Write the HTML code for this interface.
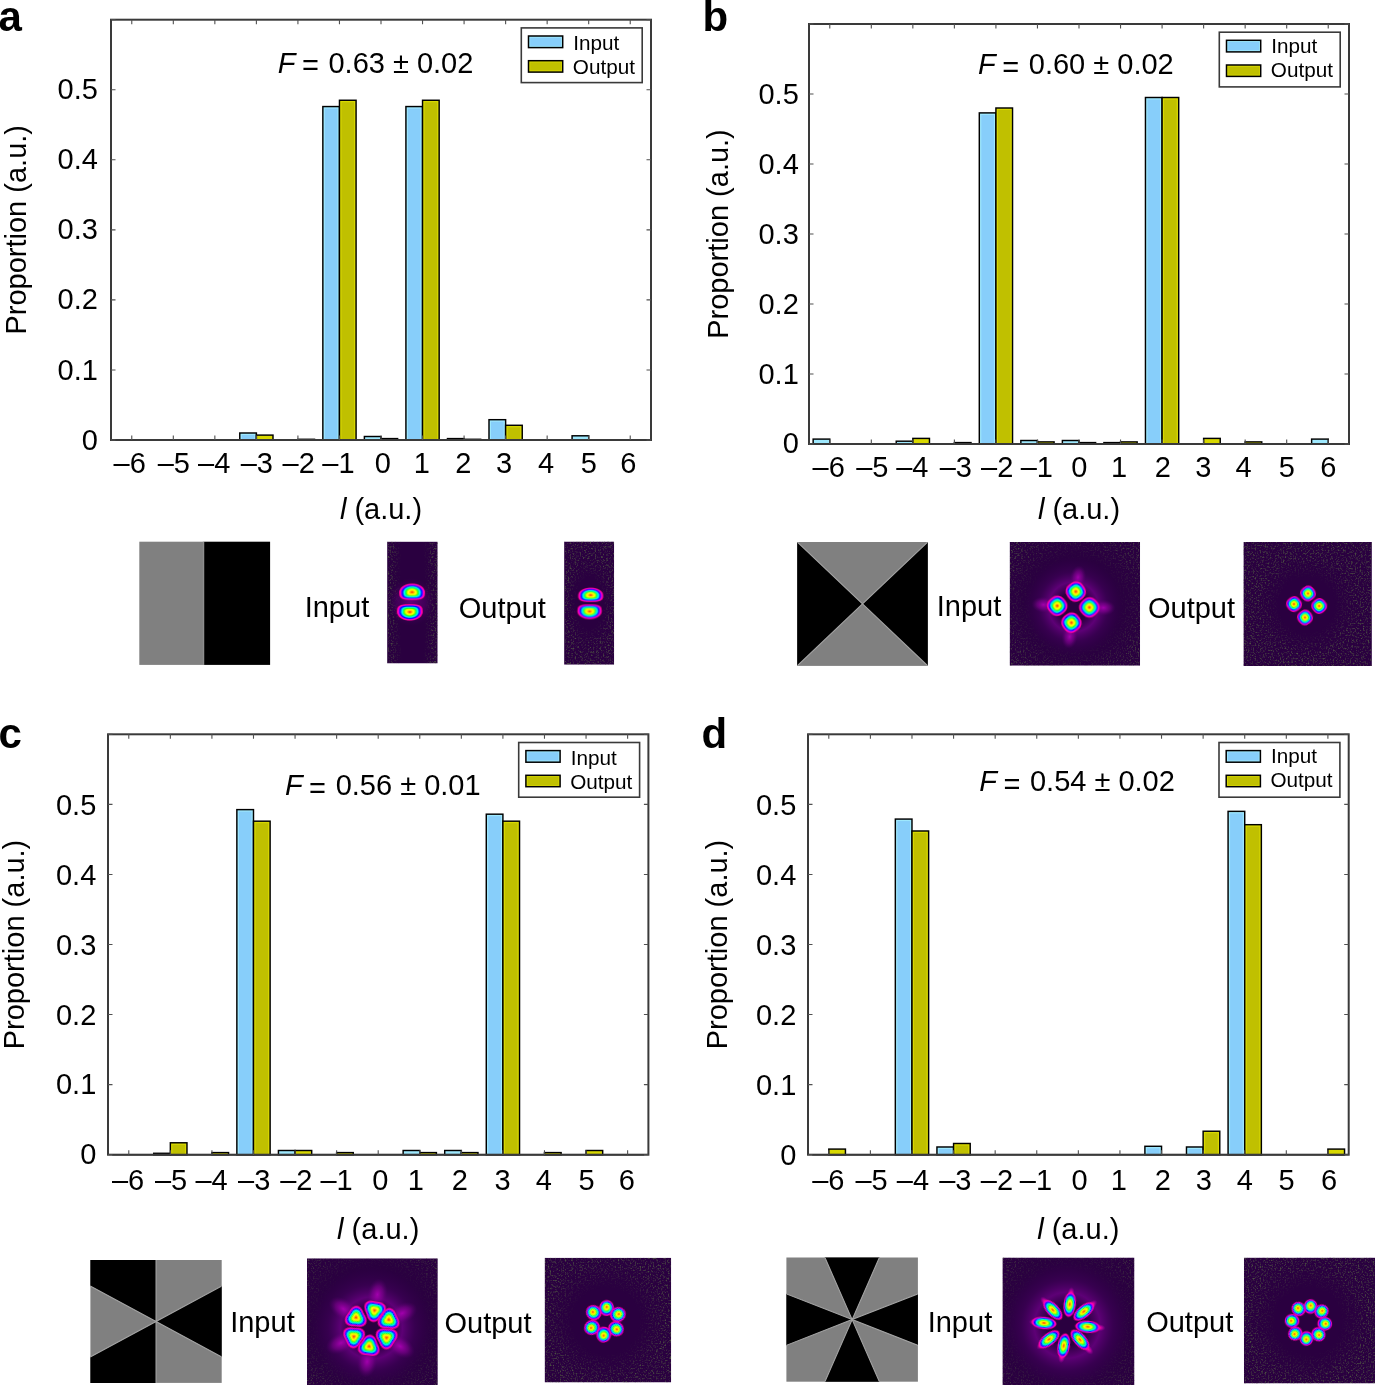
<!DOCTYPE html><html><head><meta charset="utf-8"><style>html,body{margin:0;padding:0;background:#fff;}svg{display:block;will-change:transform;}text{font-family:"Liberation Sans", sans-serif;fill:#000;}</style></head><body>
<svg width="1376" height="1385" viewBox="0 0 1376 1385">
<rect width="100%" height="100%" fill="#fff"/>
<defs>
<radialGradient id="lobe" cx="0.5" cy="0.5" r="0.5"><stop offset="0" stop-color="#ff4000"/><stop offset="0.07" stop-color="#ff9000"/><stop offset="0.16" stop-color="#ffe000"/><stop offset="0.27" stop-color="#ffff00"/><stop offset="0.38" stop-color="#a0ff00"/><stop offset="0.46" stop-color="#00ff30"/><stop offset="0.56" stop-color="#00ffe0"/><stop offset="0.64" stop-color="#0090ff"/><stop offset="0.71" stop-color="#0000ff"/><stop offset="0.78" stop-color="#7000ff"/><stop offset="0.84" stop-color="#ff00e0"/><stop offset="0.92" stop-color="#ff0090"/><stop offset="1" stop-color="#e00080" stop-opacity="0"/></radialGradient>
<radialGradient id="halo" cx="0.5" cy="0.5" r="0.5"><stop offset="0" stop-color="#6a0080" stop-opacity="0.9"/><stop offset="0.6" stop-color="#55006e" stop-opacity="0.5"/><stop offset="1" stop-color="#3a0055" stop-opacity="0"/></radialGradient>
<radialGradient id="ann" cx="0.5" cy="0.5" r="0.5"><stop offset="0" stop-color="#7a0090" stop-opacity="0"/><stop offset="0.3" stop-color="#7a0090" stop-opacity="0"/><stop offset="0.5" stop-color="#80009a" stop-opacity="0.6"/><stop offset="0.7" stop-color="#5a0078" stop-opacity="0.28"/><stop offset="1" stop-color="#3a0055" stop-opacity="0"/></radialGradient>
<radialGradient id="ray" cx="0.5" cy="0.5" r="0.5"><stop offset="0" stop-color="#b000b8" stop-opacity="0.85"/><stop offset="0.55" stop-color="#8a0098" stop-opacity="0.5"/><stop offset="1" stop-color="#5a0070" stop-opacity="0"/></radialGradient>
<radialGradient id="tail" cx="0.5" cy="0.5" r="0.5"><stop offset="0" stop-color="#ff10b0" stop-opacity="0.95"/><stop offset="0.5" stop-color="#e000b0" stop-opacity="0.6"/><stop offset="1" stop-color="#a000a0" stop-opacity="0"/></radialGradient>
<filter id="spk" x="0" y="0" width="1" height="1" color-interpolation-filters="sRGB"><feTurbulence type="fractalNoise" baseFrequency="0.6" numOctaves="2" seed="4"/><feColorMatrix type="matrix" values="0 0 0 0 0.30  0 0 0 0 0.31  0 0 0 0 0.26  3.0 0 0 0 -1.5"/><feGaussianBlur stdDeviation="0.4"/></filter>
<radialGradient id="hole" cx="0.5" cy="0.5" r="0.5"><stop offset="0" stop-color="#000"/><stop offset="0.55" stop-color="#000"/><stop offset="1" stop-color="#000" stop-opacity="0"/></radialGradient>
<g id="lb0"><path d="M8.60 0.00L8.47 2.24L8.08 4.41L7.45 6.45L6.59 8.29L5.53 9.88L4.30 11.17L2.94 12.12L1.49 12.70L0.00 12.90L-2.61 12.78L-3.99 12.41L-5.06 11.79L-5.92 10.92L-6.60 9.79L-7.13 8.36L-7.50 6.60L-7.73 4.32L-7.80 0.00L-7.73 -4.32L-7.50 -6.60L-7.13 -8.36L-6.60 -9.79L-5.92 -10.92L-5.06 -11.79L-3.99 -12.41L-2.61 -12.78L-0.00 -12.90L1.49 -12.70L2.94 -12.12L4.30 -11.17L5.53 -9.88L6.59 -8.29L7.45 -6.45L8.08 -4.41L8.47 -2.24Z" fill="#ff0090"/><path d="M7.91 0.00L7.79 2.06L7.43 4.06L6.85 5.93L6.06 7.63L5.09 9.09L3.96 10.28L2.71 11.15L1.37 11.69L0.00 11.87L-2.40 11.75L-3.67 11.42L-4.65 10.85L-5.44 10.05L-6.07 9.00L-6.56 7.70L-6.90 6.07L-7.11 3.97L-7.18 0.00L-7.11 -3.97L-6.90 -6.07L-6.56 -7.70L-6.07 -9.00L-5.44 -10.05L-4.65 -10.85L-3.67 -11.42L-2.40 -11.75L-0.00 -11.87L1.37 -11.69L2.71 -11.15L3.96 -10.28L5.09 -9.09L6.06 -7.63L6.85 -5.93L7.43 -4.06L7.79 -2.06Z" fill="#ff00d0"/><path d="M7.40 0.00L7.28 1.93L6.95 3.79L6.41 5.55L5.67 7.13L4.75 8.50L3.70 9.61L2.53 10.42L1.28 10.93L0.00 11.09L-2.25 10.99L-3.43 10.67L-4.35 10.14L-5.09 9.39L-5.68 8.42L-6.13 7.19L-6.45 5.67L-6.64 3.71L-6.71 0.00L-6.64 -3.71L-6.45 -5.67L-6.13 -7.19L-5.68 -8.42L-5.09 -9.39L-4.35 -10.14L-3.43 -10.67L-2.25 -10.99L-0.00 -11.09L1.28 -10.93L2.53 -10.42L3.70 -9.61L4.75 -8.50L5.67 -7.13L6.41 -5.55L6.95 -3.79L7.28 -1.93Z" fill="#9000ff"/><path d="M6.88 0.00L6.78 1.79L6.47 3.53L5.96 5.16L5.27 6.63L4.42 7.91L3.44 8.94L2.35 9.70L1.19 10.16L0.00 10.32L-2.09 10.22L-3.19 9.93L-4.05 9.43L-4.73 8.74L-5.28 7.83L-5.70 6.69L-6.00 5.28L-6.18 3.46L-6.24 0.00L-6.18 -3.46L-6.00 -5.28L-5.70 -6.69L-5.28 -7.83L-4.73 -8.74L-4.05 -9.43L-3.19 -9.93L-2.09 -10.22L-0.00 -10.32L1.19 -10.16L2.35 -9.70L3.44 -8.94L4.42 -7.91L5.27 -6.63L5.96 -5.16L6.47 -3.53L6.78 -1.79Z" fill="#0000ff"/><path d="M6.28 0.00L6.18 1.64L5.90 3.22L5.44 4.71L4.81 6.05L4.04 7.21L3.14 8.16L2.15 8.85L1.09 9.27L0.00 9.42L-1.91 9.33L-2.91 9.06L-3.69 8.61L-4.32 7.97L-4.82 7.14L-5.20 6.11L-5.48 4.82L-5.64 3.15L-5.69 0.00L-5.64 -3.15L-5.48 -4.82L-5.20 -6.11L-4.82 -7.14L-4.32 -7.97L-3.69 -8.61L-2.91 -9.06L-1.91 -9.33L-0.00 -9.42L1.09 -9.27L2.15 -8.85L3.14 -8.16L4.04 -7.21L4.81 -6.05L5.44 -4.71L5.90 -3.22L6.18 -1.64Z" fill="#0040ff"/><path d="M5.76 0.00L5.67 1.50L5.41 2.96L4.99 4.32L4.41 5.56L3.70 6.62L2.88 7.49L1.97 8.12L1.00 8.51L0.00 8.64L-1.75 8.56L-2.67 8.31L-3.39 7.90L-3.96 7.32L-4.42 6.56L-4.78 5.60L-5.03 4.42L-5.18 2.89L-5.23 0.00L-5.18 -2.89L-5.03 -4.42L-4.78 -5.60L-4.42 -6.56L-3.96 -7.32L-3.39 -7.90L-2.67 -8.31L-1.75 -8.56L-0.00 -8.64L1.00 -8.51L1.97 -8.12L2.88 -7.49L3.70 -6.62L4.41 -5.56L4.99 -4.32L5.41 -2.96L5.67 -1.50Z" fill="#00c0ff"/><path d="M5.33 0.00L5.25 1.39L5.01 2.74L4.62 4.00L4.08 5.14L3.43 6.13L2.67 6.93L1.82 7.52L0.93 7.88L0.00 8.00L-1.62 7.92L-2.47 7.69L-3.14 7.31L-3.67 6.77L-4.09 6.07L-4.42 5.19L-4.65 4.09L-4.79 2.68L-4.84 0.00L-4.79 -2.68L-4.65 -4.09L-4.42 -5.19L-4.09 -6.07L-3.67 -6.77L-3.14 -7.31L-2.47 -7.69L-1.62 -7.92L-0.00 -8.00L0.93 -7.88L1.82 -7.52L2.67 -6.93L3.43 -6.13L4.08 -5.14L4.62 -4.00L5.01 -2.74L5.25 -1.39Z" fill="#00ffe0"/><path d="M4.73 0.00L4.66 1.23L4.44 2.43L4.10 3.55L3.62 4.56L3.04 5.44L2.37 6.14L1.62 6.67L0.82 6.99L0.00 7.10L-1.44 7.03L-2.19 6.82L-2.78 6.48L-3.25 6.01L-3.63 5.38L-3.92 4.60L-4.13 3.63L-4.25 2.38L-4.29 0.00L-4.25 -2.38L-4.13 -3.63L-3.92 -4.60L-3.63 -5.38L-3.25 -6.01L-2.78 -6.48L-2.19 -6.82L-1.44 -7.03L-0.00 -7.10L0.82 -6.99L1.62 -6.67L2.36 -6.14L3.04 -5.44L3.62 -4.56L4.10 -3.55L4.44 -2.43L4.66 -1.23Z" fill="#00ff60"/><path d="M4.04 0.00L3.98 1.05L3.80 2.07L3.50 3.03L3.10 3.90L2.60 4.64L2.02 5.25L1.38 5.70L0.70 5.97L0.00 6.06L-1.23 6.01L-1.87 5.83L-2.38 5.54L-2.78 5.13L-3.10 4.60L-3.35 3.93L-3.53 3.10L-3.63 2.03L-3.67 0.00L-3.63 -2.03L-3.53 -3.10L-3.35 -3.93L-3.10 -4.60L-2.78 -5.13L-2.38 -5.54L-1.87 -5.83L-1.23 -6.01L-0.00 -6.06L0.70 -5.97L1.38 -5.70L2.02 -5.25L2.60 -4.64L3.10 -3.90L3.50 -3.03L3.80 -2.07L3.98 -1.05Z" fill="#40ff00"/><path d="M3.44 0.00L3.39 0.90L3.23 1.76L2.98 2.58L2.64 3.32L2.21 3.95L1.72 4.47L1.18 4.85L0.60 5.08L0.00 5.16L-1.04 5.11L-1.60 4.96L-2.02 4.72L-2.37 4.37L-2.64 3.91L-2.85 3.35L-3.00 2.64L-3.09 1.73L-3.12 0.00L-3.09 -1.73L-3.00 -2.64L-2.85 -3.35L-2.64 -3.91L-2.37 -4.37L-2.02 -4.72L-1.60 -4.96L-1.04 -5.11L-0.00 -5.16L0.60 -5.08L1.18 -4.85L1.72 -4.47L2.21 -3.95L2.64 -3.32L2.98 -2.58L3.23 -1.76L3.39 -0.90Z" fill="#c0ff00"/><path d="M2.75 0.00L2.71 0.72L2.59 1.41L2.38 2.06L2.11 2.65L1.77 3.16L1.38 3.57L0.94 3.88L0.48 4.07L0.00 4.13L-0.84 4.09L-1.28 3.97L-1.62 3.77L-1.89 3.49L-2.11 3.13L-2.28 2.68L-2.40 2.11L-2.47 1.38L-2.50 0.00L-2.47 -1.38L-2.40 -2.11L-2.28 -2.68L-2.11 -3.13L-1.89 -3.49L-1.62 -3.77L-1.28 -3.97L-0.84 -4.09L-0.00 -4.13L0.48 -4.07L0.94 -3.88L1.38 -3.57L1.77 -3.16L2.11 -2.65L2.38 -2.06L2.59 -1.41L2.71 -0.72Z" fill="#ffff00"/><path d="M1.81 0.00L1.78 0.47L1.70 0.93L1.56 1.35L1.38 1.74L1.16 2.08L0.90 2.35L0.62 2.55L0.31 2.67L0.00 2.71L-0.55 2.68L-0.84 2.61L-1.06 2.48L-1.24 2.29L-1.39 2.06L-1.50 1.76L-1.58 1.39L-1.62 0.91L-1.64 0.00L-1.62 -0.91L-1.58 -1.39L-1.50 -1.76L-1.39 -2.06L-1.24 -2.29L-1.06 -2.48L-0.84 -2.61L-0.55 -2.68L-0.00 -2.71L0.31 -2.67L0.62 -2.55L0.90 -2.35L1.16 -2.08L1.38 -1.74L1.56 -1.35L1.70 -0.93L1.78 -0.47Z" fill="#ffb000"/><path d="M0.95 0.00L0.93 0.25L0.89 0.49L0.82 0.71L0.72 0.91L0.61 1.09L0.47 1.23L0.32 1.33L0.16 1.40L0.00 1.42L-0.29 1.41L-0.44 1.36L-0.56 1.30L-0.65 1.20L-0.73 1.08L-0.78 0.92L-0.83 0.73L-0.85 0.48L-0.86 0.00L-0.85 -0.48L-0.83 -0.73L-0.78 -0.92L-0.73 -1.08L-0.65 -1.20L-0.56 -1.30L-0.44 -1.36L-0.29 -1.41L-0.00 -1.42L0.16 -1.40L0.32 -1.33L0.47 -1.23L0.61 -1.09L0.72 -0.91L0.82 -0.71L0.89 -0.49L0.93 -0.25Z" fill="#ff5000"/></g><g id="lb1"><path d="M8.60 0.00L8.47 2.24L8.08 4.41L7.45 6.45L6.59 8.29L5.53 9.88L4.30 11.17L2.94 12.12L1.49 12.70L0.00 12.90L-2.61 12.78L-3.99 12.41L-5.06 11.79L-5.92 10.92L-6.60 9.79L-7.13 8.36L-7.50 6.60L-7.73 4.32L-7.80 0.00L-7.73 -4.32L-7.50 -6.60L-7.13 -8.36L-6.60 -9.79L-5.92 -10.92L-5.06 -11.79L-3.99 -12.41L-2.61 -12.78L-0.00 -12.90L1.49 -12.70L2.94 -12.12L4.30 -11.17L5.53 -9.88L6.59 -8.29L7.45 -6.45L8.08 -4.41L8.47 -2.24Z" fill="#ff0090"/><path d="M7.91 0.00L7.79 2.06L7.43 4.06L6.85 5.93L6.06 7.63L5.09 9.09L3.96 10.28L2.71 11.15L1.37 11.69L0.00 11.87L-2.40 11.75L-3.67 11.42L-4.65 10.85L-5.44 10.05L-6.07 9.00L-6.56 7.70L-6.90 6.07L-7.11 3.97L-7.18 0.00L-7.11 -3.97L-6.90 -6.07L-6.56 -7.70L-6.07 -9.00L-5.44 -10.05L-4.65 -10.85L-3.67 -11.42L-2.40 -11.75L-0.00 -11.87L1.37 -11.69L2.71 -11.15L3.96 -10.28L5.09 -9.09L6.06 -7.63L6.85 -5.93L7.43 -4.06L7.79 -2.06Z" fill="#ff00d0"/><path d="M7.40 0.00L7.28 1.93L6.95 3.79L6.41 5.55L5.67 7.13L4.75 8.50L3.70 9.61L2.53 10.42L1.28 10.93L0.00 11.09L-2.25 10.99L-3.43 10.67L-4.35 10.14L-5.09 9.39L-5.68 8.42L-6.13 7.19L-6.45 5.67L-6.64 3.71L-6.71 0.00L-6.64 -3.71L-6.45 -5.67L-6.13 -7.19L-5.68 -8.42L-5.09 -9.39L-4.35 -10.14L-3.43 -10.67L-2.25 -10.99L-0.00 -11.09L1.28 -10.93L2.53 -10.42L3.70 -9.61L4.75 -8.50L5.67 -7.13L6.41 -5.55L6.95 -3.79L7.28 -1.93Z" fill="#9000ff"/><path d="M6.88 0.00L6.78 1.79L6.47 3.53L5.96 5.16L5.27 6.63L4.42 7.91L3.44 8.94L2.35 9.70L1.19 10.16L0.00 10.32L-2.09 10.22L-3.19 9.93L-4.05 9.43L-4.73 8.74L-5.28 7.83L-5.70 6.69L-6.00 5.28L-6.18 3.46L-6.24 0.00L-6.18 -3.46L-6.00 -5.28L-5.70 -6.69L-5.28 -7.83L-4.73 -8.74L-4.05 -9.43L-3.19 -9.93L-2.09 -10.22L-0.00 -10.32L1.19 -10.16L2.35 -9.70L3.44 -8.94L4.42 -7.91L5.27 -6.63L5.96 -5.16L6.47 -3.53L6.78 -1.79Z" fill="#0000ff"/><path d="M6.28 0.00L6.18 1.64L5.90 3.22L5.44 4.71L4.81 6.05L4.04 7.21L3.14 8.16L2.15 8.85L1.09 9.27L0.00 9.42L-1.91 9.33L-2.91 9.06L-3.69 8.61L-4.32 7.97L-4.82 7.14L-5.20 6.11L-5.48 4.82L-5.64 3.15L-5.69 0.00L-5.64 -3.15L-5.48 -4.82L-5.20 -6.11L-4.82 -7.14L-4.32 -7.97L-3.69 -8.61L-2.91 -9.06L-1.91 -9.33L-0.00 -9.42L1.09 -9.27L2.15 -8.85L3.14 -8.16L4.04 -7.21L4.81 -6.05L5.44 -4.71L5.90 -3.22L6.18 -1.64Z" fill="#0040ff"/><path d="M5.76 0.00L5.67 1.50L5.41 2.96L4.99 4.32L4.41 5.56L3.70 6.62L2.88 7.49L1.97 8.12L1.00 8.51L0.00 8.64L-1.75 8.56L-2.67 8.31L-3.39 7.90L-3.96 7.32L-4.42 6.56L-4.78 5.60L-5.03 4.42L-5.18 2.89L-5.23 0.00L-5.18 -2.89L-5.03 -4.42L-4.78 -5.60L-4.42 -6.56L-3.96 -7.32L-3.39 -7.90L-2.67 -8.31L-1.75 -8.56L-0.00 -8.64L1.00 -8.51L1.97 -8.12L2.88 -7.49L3.70 -6.62L4.41 -5.56L4.99 -4.32L5.41 -2.96L5.67 -1.50Z" fill="#00c0ff"/><path d="M5.33 0.00L5.25 1.39L5.01 2.74L4.62 4.00L4.08 5.14L3.43 6.13L2.67 6.93L1.82 7.52L0.93 7.88L0.00 8.00L-1.62 7.92L-2.47 7.69L-3.14 7.31L-3.67 6.77L-4.09 6.07L-4.42 5.19L-4.65 4.09L-4.79 2.68L-4.84 0.00L-4.79 -2.68L-4.65 -4.09L-4.42 -5.19L-4.09 -6.07L-3.67 -6.77L-3.14 -7.31L-2.47 -7.69L-1.62 -7.92L-0.00 -8.00L0.93 -7.88L1.82 -7.52L2.67 -6.93L3.43 -6.13L4.08 -5.14L4.62 -4.00L5.01 -2.74L5.25 -1.39Z" fill="#00ffe0"/><path d="M4.73 0.00L4.66 1.23L4.44 2.43L4.10 3.55L3.62 4.56L3.04 5.44L2.37 6.14L1.62 6.67L0.82 6.99L0.00 7.10L-1.44 7.03L-2.19 6.82L-2.78 6.48L-3.25 6.01L-3.63 5.38L-3.92 4.60L-4.13 3.63L-4.25 2.38L-4.29 0.00L-4.25 -2.38L-4.13 -3.63L-3.92 -4.60L-3.63 -5.38L-3.25 -6.01L-2.78 -6.48L-2.19 -6.82L-1.44 -7.03L-0.00 -7.10L0.82 -6.99L1.62 -6.67L2.36 -6.14L3.04 -5.44L3.62 -4.56L4.10 -3.55L4.44 -2.43L4.66 -1.23Z" fill="#00ff60"/><path d="M4.04 0.00L3.98 1.05L3.80 2.07L3.50 3.03L3.10 3.90L2.60 4.64L2.02 5.25L1.38 5.70L0.70 5.97L0.00 6.06L-1.23 6.01L-1.87 5.83L-2.38 5.54L-2.78 5.13L-3.10 4.60L-3.35 3.93L-3.53 3.10L-3.63 2.03L-3.67 0.00L-3.63 -2.03L-3.53 -3.10L-3.35 -3.93L-3.10 -4.60L-2.78 -5.13L-2.38 -5.54L-1.87 -5.83L-1.23 -6.01L-0.00 -6.06L0.70 -5.97L1.38 -5.70L2.02 -5.25L2.60 -4.64L3.10 -3.90L3.50 -3.03L3.80 -2.07L3.98 -1.05Z" fill="#40ff00"/><path d="M3.44 0.00L3.39 0.90L3.23 1.76L2.98 2.58L2.64 3.32L2.21 3.95L1.72 4.47L1.18 4.85L0.60 5.08L0.00 5.16L-1.04 5.11L-1.60 4.96L-2.02 4.72L-2.37 4.37L-2.64 3.91L-2.85 3.35L-3.00 2.64L-3.09 1.73L-3.12 0.00L-3.09 -1.73L-3.00 -2.64L-2.85 -3.35L-2.64 -3.91L-2.37 -4.37L-2.02 -4.72L-1.60 -4.96L-1.04 -5.11L-0.00 -5.16L0.60 -5.08L1.18 -4.85L1.72 -4.47L2.21 -3.95L2.64 -3.32L2.98 -2.58L3.23 -1.76L3.39 -0.90Z" fill="#c0ff00"/><path d="M2.75 0.00L2.71 0.72L2.59 1.41L2.38 2.06L2.11 2.65L1.77 3.16L1.38 3.57L0.94 3.88L0.48 4.07L0.00 4.13L-0.84 4.09L-1.28 3.97L-1.62 3.77L-1.89 3.49L-2.11 3.13L-2.28 2.68L-2.40 2.11L-2.47 1.38L-2.50 0.00L-2.47 -1.38L-2.40 -2.11L-2.28 -2.68L-2.11 -3.13L-1.89 -3.49L-1.62 -3.77L-1.28 -3.97L-0.84 -4.09L-0.00 -4.13L0.48 -4.07L0.94 -3.88L1.38 -3.57L1.77 -3.16L2.11 -2.65L2.38 -2.06L2.59 -1.41L2.71 -0.72Z" fill="#ffff00"/><path d="M1.81 0.00L1.78 0.47L1.70 0.93L1.56 1.35L1.38 1.74L1.16 2.08L0.90 2.35L0.62 2.55L0.31 2.67L0.00 2.71L-0.55 2.68L-0.84 2.61L-1.06 2.48L-1.24 2.29L-1.39 2.06L-1.50 1.76L-1.58 1.39L-1.62 0.91L-1.64 0.00L-1.62 -0.91L-1.58 -1.39L-1.50 -1.76L-1.39 -2.06L-1.24 -2.29L-1.06 -2.48L-0.84 -2.61L-0.55 -2.68L-0.00 -2.71L0.31 -2.67L0.62 -2.55L0.90 -2.35L1.16 -2.08L1.38 -1.74L1.56 -1.35L1.70 -0.93L1.78 -0.47Z" fill="#ffb000"/><path d="M0.95 0.00L0.93 0.25L0.89 0.49L0.82 0.71L0.72 0.91L0.61 1.09L0.47 1.23L0.32 1.33L0.16 1.40L0.00 1.42L-0.29 1.41L-0.44 1.36L-0.56 1.30L-0.65 1.20L-0.73 1.08L-0.78 0.92L-0.83 0.73L-0.85 0.48L-0.86 0.00L-0.85 -0.48L-0.83 -0.73L-0.78 -0.92L-0.73 -1.08L-0.65 -1.20L-0.56 -1.30L-0.44 -1.36L-0.29 -1.41L-0.00 -1.42L0.16 -1.40L0.32 -1.33L0.47 -1.23L0.61 -1.09L0.72 -0.91L0.82 -0.71L0.89 -0.49L0.93 -0.25Z" fill="#ff5000"/></g><g id="lb2"><path d="M7.40 0.00L7.29 2.17L6.95 4.28L6.41 6.25L5.67 8.03L4.76 9.58L3.70 10.83L2.53 11.75L1.28 12.31L0.00 12.50L-2.28 12.38L-3.48 12.02L-4.41 11.43L-5.16 10.58L-5.76 9.48L-6.22 8.11L-6.54 6.39L-6.74 4.19L-6.80 0.00L-6.74 -4.19L-6.54 -6.39L-6.22 -8.11L-5.76 -9.48L-5.16 -10.58L-4.41 -11.43L-3.48 -12.02L-2.28 -12.38L-0.00 -12.50L1.28 -12.31L2.53 -11.75L3.70 -10.83L4.76 -9.58L5.67 -8.03L6.41 -6.25L6.95 -4.28L7.29 -2.17Z" fill="#ff0090"/><path d="M6.81 0.00L6.70 2.00L6.40 3.93L5.90 5.75L5.22 7.39L4.38 8.81L3.40 9.96L2.33 10.81L1.18 11.33L0.00 11.50L-2.09 11.39L-3.20 11.06L-4.06 10.51L-4.75 9.74L-5.30 8.72L-5.72 7.46L-6.02 5.88L-6.20 3.85L-6.26 0.00L-6.20 -3.85L-6.02 -5.88L-5.72 -7.46L-5.30 -8.72L-4.75 -9.74L-4.06 -10.51L-3.20 -11.06L-2.09 -11.39L-0.00 -11.50L1.18 -11.33L2.33 -10.81L3.40 -9.96L4.38 -8.81L5.22 -7.39L5.90 -5.75L6.40 -3.93L6.70 -2.00Z" fill="#ff00d0"/><path d="M6.36 0.00L6.27 1.87L5.98 3.68L5.51 5.37L4.88 6.91L4.09 8.23L3.18 9.31L2.18 10.10L1.11 10.59L0.00 10.75L-1.96 10.65L-2.99 10.34L-3.79 9.83L-4.44 9.10L-4.95 8.16L-5.35 6.97L-5.63 5.50L-5.79 3.60L-5.85 0.00L-5.79 -3.60L-5.63 -5.50L-5.35 -6.97L-4.95 -8.16L-4.44 -9.10L-3.79 -9.83L-2.99 -10.34L-1.96 -10.65L-0.00 -10.75L1.11 -10.59L2.18 -10.10L3.18 -9.31L4.09 -8.23L4.88 -6.91L5.51 -5.37L5.98 -3.68L6.27 -1.87Z" fill="#9000ff"/><path d="M5.92 0.00L5.83 1.74L5.56 3.42L5.13 5.00L4.53 6.43L3.81 7.66L2.96 8.66L2.02 9.40L1.03 9.85L0.00 10.00L-1.82 9.90L-2.78 9.62L-3.53 9.14L-4.13 8.47L-4.61 7.59L-4.97 6.48L-5.23 5.11L-5.39 3.35L-5.44 0.00L-5.39 -3.35L-5.23 -5.11L-4.97 -6.48L-4.61 -7.59L-4.13 -8.47L-3.53 -9.14L-2.78 -9.62L-1.82 -9.90L-0.00 -10.00L1.03 -9.85L2.02 -9.40L2.96 -8.66L3.81 -7.66L4.53 -6.43L5.13 -5.00L5.56 -3.42L5.83 -1.74Z" fill="#0000ff"/><path d="M5.40 0.00L5.32 1.58L5.08 3.12L4.68 4.56L4.14 5.87L3.47 6.99L2.70 7.90L1.85 8.57L0.94 8.99L0.00 9.12L-1.66 9.04L-2.54 8.78L-3.22 8.34L-3.77 7.72L-4.20 6.92L-4.54 5.92L-4.77 4.67L-4.92 3.06L-4.96 0.00L-4.92 -3.06L-4.77 -4.67L-4.54 -5.92L-4.20 -6.92L-3.77 -7.72L-3.22 -8.34L-2.54 -8.78L-1.66 -9.04L-0.00 -9.12L0.94 -8.99L1.85 -8.57L2.70 -7.90L3.47 -6.99L4.14 -5.87L4.68 -4.56L5.08 -3.12L5.32 -1.58Z" fill="#0040ff"/><path d="M4.96 0.00L4.88 1.45L4.66 2.86L4.29 4.19L3.80 5.38L3.19 6.42L2.48 7.25L1.70 7.87L0.86 8.25L0.00 8.38L-1.53 8.30L-2.33 8.06L-2.95 7.65L-3.46 7.09L-3.86 6.35L-4.16 5.43L-4.38 4.28L-4.51 2.80L-4.56 0.00L-4.51 -2.80L-4.38 -4.28L-4.16 -5.43L-3.86 -6.35L-3.46 -7.09L-2.95 -7.65L-2.33 -8.06L-1.53 -8.30L-0.00 -8.38L0.86 -8.25L1.70 -7.87L2.48 -7.25L3.19 -6.42L3.80 -5.38L4.29 -4.19L4.66 -2.86L4.88 -1.45Z" fill="#00c0ff"/><path d="M4.59 0.00L4.52 1.35L4.31 2.65L3.97 3.87L3.51 4.98L2.95 5.94L2.29 6.71L1.57 7.28L0.80 7.63L0.00 7.75L-1.41 7.68L-2.16 7.45L-2.73 7.08L-3.20 6.56L-3.57 5.88L-3.85 5.03L-4.06 3.96L-4.18 2.59L-4.22 0.00L-4.18 -2.59L-4.06 -3.96L-3.85 -5.03L-3.57 -5.88L-3.20 -6.56L-2.73 -7.08L-2.16 -7.45L-1.41 -7.68L-0.00 -7.75L0.80 -7.63L1.57 -7.28L2.29 -6.71L2.95 -5.94L3.51 -4.98L3.97 -3.87L4.31 -2.65L4.52 -1.35Z" fill="#00ffe0"/><path d="M4.07 0.00L4.01 1.19L3.82 2.35L3.52 3.44L3.12 4.42L2.62 5.27L2.04 5.95L1.39 6.46L0.71 6.77L0.00 6.88L-1.25 6.81L-1.91 6.61L-2.43 6.28L-2.84 5.82L-3.17 5.22L-3.42 4.46L-3.60 3.52L-3.70 2.30L-3.74 0.00L-3.70 -2.30L-3.60 -3.52L-3.42 -4.46L-3.17 -5.22L-2.84 -5.82L-2.43 -6.28L-1.91 -6.61L-1.25 -6.81L-0.00 -6.88L0.71 -6.77L1.39 -6.46L2.03 -5.95L2.62 -5.27L3.12 -4.42L3.52 -3.44L3.82 -2.35L4.01 -1.19Z" fill="#00ff60"/><path d="M3.48 0.00L3.43 1.02L3.27 2.01L3.01 2.94L2.66 3.78L2.24 4.50L1.74 5.09L1.19 5.52L0.60 5.79L0.00 5.88L-1.07 5.82L-1.63 5.65L-2.07 5.37L-2.42 4.97L-2.71 4.46L-2.92 3.81L-3.07 3.00L-3.17 1.97L-3.20 0.00L-3.17 -1.97L-3.07 -3.00L-2.92 -3.81L-2.71 -4.46L-2.42 -4.97L-2.07 -5.37L-1.63 -5.65L-1.07 -5.82L-0.00 -5.88L0.60 -5.79L1.19 -5.52L1.74 -5.09L2.24 -4.50L2.66 -3.78L3.01 -2.94L3.27 -2.01L3.43 -1.02Z" fill="#40ff00"/><path d="M2.96 0.00L2.92 0.87L2.78 1.71L2.56 2.50L2.27 3.21L1.90 3.83L1.48 4.33L1.01 4.70L0.51 4.92L0.00 5.00L-0.91 4.95L-1.39 4.81L-1.76 4.57L-2.06 4.23L-2.30 3.79L-2.49 3.24L-2.62 2.56L-2.69 1.67L-2.72 0.00L-2.69 -1.67L-2.62 -2.56L-2.49 -3.24L-2.30 -3.79L-2.06 -4.23L-1.76 -4.57L-1.39 -4.81L-0.91 -4.95L-0.00 -5.00L0.51 -4.92L1.01 -4.70L1.48 -4.33L1.90 -3.83L2.27 -3.21L2.56 -2.50L2.78 -1.71L2.92 -0.87Z" fill="#c0ff00"/><path d="M2.37 0.00L2.33 0.69L2.23 1.37L2.05 2.00L1.81 2.57L1.52 3.06L1.18 3.46L0.81 3.76L0.41 3.94L0.00 4.00L-0.73 3.96L-1.11 3.85L-1.41 3.66L-1.65 3.39L-1.84 3.03L-1.99 2.59L-2.09 2.05L-2.16 1.34L-2.18 0.00L-2.16 -1.34L-2.09 -2.05L-1.99 -2.59L-1.84 -3.03L-1.65 -3.39L-1.41 -3.66L-1.11 -3.85L-0.73 -3.96L-0.00 -4.00L0.41 -3.94L0.81 -3.76L1.18 -3.46L1.52 -3.06L1.81 -2.57L2.05 -2.00L2.23 -1.37L2.33 -0.69Z" fill="#ffff00"/><path d="M1.55 0.00L1.53 0.46L1.46 0.90L1.35 1.31L1.19 1.69L1.00 2.01L0.78 2.27L0.53 2.47L0.27 2.59L0.00 2.62L-0.48 2.60L-0.73 2.52L-0.93 2.40L-1.08 2.22L-1.21 1.99L-1.31 1.70L-1.37 1.34L-1.41 0.88L-1.43 0.00L-1.41 -0.88L-1.37 -1.34L-1.31 -1.70L-1.21 -1.99L-1.08 -2.22L-0.93 -2.40L-0.73 -2.52L-0.48 -2.60L-0.00 -2.62L0.27 -2.59L0.53 -2.47L0.78 -2.27L1.00 -2.01L1.19 -1.69L1.35 -1.31L1.46 -0.90L1.53 -0.46Z" fill="#ffb000"/><path d="M0.81 0.00L0.80 0.24L0.76 0.47L0.70 0.69L0.62 0.88L0.52 1.05L0.41 1.19L0.28 1.29L0.14 1.35L0.00 1.38L-0.25 1.36L-0.38 1.32L-0.49 1.26L-0.57 1.16L-0.63 1.04L-0.68 0.89L-0.72 0.70L-0.74 0.46L-0.75 0.00L-0.74 -0.46L-0.72 -0.70L-0.68 -0.89L-0.63 -1.04L-0.57 -1.16L-0.49 -1.26L-0.38 -1.32L-0.25 -1.36L-0.00 -1.38L0.14 -1.35L0.28 -1.29L0.41 -1.19L0.52 -1.05L0.62 -0.88L0.70 -0.69L0.76 -0.47L0.80 -0.24Z" fill="#ff5000"/></g><g id="lb3"><path d="M7.80 0.00L7.68 2.12L7.33 4.17L6.75 6.10L5.98 7.84L5.01 9.35L3.90 10.57L2.67 11.46L1.35 12.01L0.00 12.20L-2.34 12.08L-3.58 11.73L-4.54 11.15L-5.31 10.33L-5.93 9.26L-6.40 7.91L-6.73 6.24L-6.93 4.08L-7.00 0.00L-6.93 -4.08L-6.73 -6.24L-6.40 -7.91L-5.93 -9.26L-5.31 -10.33L-4.54 -11.15L-3.58 -11.73L-2.34 -12.08L-0.00 -12.20L1.35 -12.01L2.67 -11.46L3.90 -10.57L5.01 -9.35L5.98 -7.84L6.75 -6.10L7.33 -4.17L7.68 -2.12Z" fill="#ff0090"/><path d="M7.18 0.00L7.07 1.95L6.74 3.84L6.21 5.61L5.50 7.21L4.61 8.60L3.59 9.72L2.45 10.55L1.25 11.05L0.00 11.22L-2.16 11.12L-3.29 10.80L-4.18 10.26L-4.89 9.50L-5.45 8.52L-5.89 7.28L-6.19 5.74L-6.38 3.76L-6.44 0.00L-6.38 -3.76L-6.19 -5.74L-5.89 -7.28L-5.45 -8.52L-4.89 -9.50L-4.18 -10.26L-3.29 -10.80L-2.16 -11.12L-0.00 -11.22L1.25 -11.05L2.45 -10.55L3.59 -9.72L4.61 -8.60L5.50 -7.21L6.21 -5.61L6.74 -3.84L7.07 -1.95Z" fill="#ff00d0"/><path d="M6.71 0.00L6.61 1.82L6.30 3.59L5.81 5.25L5.14 6.74L4.31 8.04L3.35 9.09L2.29 9.86L1.16 10.33L0.00 10.49L-2.02 10.39L-3.08 10.09L-3.90 9.59L-4.57 8.88L-5.10 7.96L-5.50 6.80L-5.79 5.37L-5.96 3.51L-6.02 0.00L-5.96 -3.51L-5.79 -5.37L-5.50 -6.80L-5.10 -7.96L-4.57 -8.88L-3.90 -9.59L-3.08 -10.09L-2.02 -10.39L-0.00 -10.49L1.16 -10.33L2.29 -9.86L3.35 -9.09L4.31 -8.04L5.14 -6.74L5.81 -5.25L6.30 -3.59L6.61 -1.82Z" fill="#9000ff"/><path d="M6.24 0.00L6.15 1.69L5.86 3.34L5.40 4.88L4.78 6.27L4.01 7.48L3.12 8.45L2.13 9.17L1.08 9.61L0.00 9.76L-1.87 9.67L-2.86 9.39L-3.63 8.92L-4.25 8.26L-4.74 7.40L-5.12 6.33L-5.39 4.99L-5.55 3.27L-5.60 0.00L-5.55 -3.27L-5.39 -4.99L-5.12 -6.33L-4.74 -7.40L-4.25 -8.26L-3.63 -8.92L-2.86 -9.39L-1.87 -9.67L-0.00 -9.76L1.08 -9.61L2.13 -9.17L3.12 -8.45L4.01 -7.48L4.78 -6.27L5.40 -4.88L5.86 -3.34L6.15 -1.69Z" fill="#0000ff"/><path d="M5.69 0.00L5.61 1.55L5.35 3.05L4.93 4.45L4.36 5.72L3.66 6.82L2.85 7.71L1.95 8.37L0.99 8.77L0.00 8.91L-1.71 8.82L-2.61 8.57L-3.31 8.14L-3.88 7.54L-4.33 6.76L-4.67 5.77L-4.92 4.55L-5.06 2.98L-5.11 0.00L-5.06 -2.98L-4.92 -4.55L-4.67 -5.77L-4.33 -6.76L-3.88 -7.54L-3.31 -8.14L-2.61 -8.57L-1.71 -8.82L-0.00 -8.91L0.99 -8.77L1.95 -8.37L2.85 -7.71L3.66 -6.82L4.36 -5.72L4.93 -4.45L5.35 -3.05L5.61 -1.55Z" fill="#0040ff"/><path d="M5.23 0.00L5.15 1.42L4.91 2.80L4.53 4.09L4.00 5.25L3.36 6.26L2.61 7.08L1.79 7.68L0.91 8.05L0.00 8.17L-1.57 8.10L-2.40 7.86L-3.04 7.47L-3.56 6.92L-3.97 6.20L-4.29 5.30L-4.51 4.18L-4.65 2.74L-4.69 0.00L-4.65 -2.74L-4.51 -4.18L-4.29 -5.30L-3.97 -6.20L-3.56 -6.92L-3.04 -7.47L-2.40 -7.86L-1.57 -8.10L-0.00 -8.17L0.91 -8.05L1.79 -7.68L2.61 -7.08L3.36 -6.26L4.00 -5.25L4.53 -4.09L4.91 -2.80L5.15 -1.42Z" fill="#00c0ff"/><path d="M4.84 0.00L4.76 1.31L4.54 2.59L4.19 3.78L3.70 4.86L3.11 5.79L2.42 6.55L1.65 7.11L0.84 7.45L0.00 7.56L-1.45 7.49L-2.22 7.28L-2.81 6.91L-3.29 6.40L-3.67 5.74L-3.97 4.90L-4.17 3.87L-4.30 2.53L-4.34 0.00L-4.30 -2.53L-4.17 -3.87L-3.97 -4.90L-3.67 -5.74L-3.29 -6.40L-2.81 -6.91L-2.22 -7.28L-1.45 -7.49L-0.00 -7.56L0.84 -7.45L1.65 -7.11L2.42 -6.55L3.11 -5.79L3.70 -4.86L4.19 -3.78L4.54 -2.59L4.76 -1.31Z" fill="#00ffe0"/><path d="M4.29 0.00L4.22 1.17L4.03 2.29L3.72 3.35L3.29 4.31L2.76 5.14L2.15 5.81L1.47 6.31L0.74 6.61L0.00 6.71L-1.29 6.65L-1.97 6.45L-2.50 6.13L-2.92 5.68L-3.26 5.09L-3.52 4.35L-3.70 3.43L-3.81 2.25L-3.85 0.00L-3.81 -2.25L-3.70 -3.43L-3.52 -4.35L-3.26 -5.09L-2.92 -5.68L-2.50 -6.13L-1.97 -6.45L-1.29 -6.65L-0.00 -6.71L0.74 -6.61L1.47 -6.31L2.14 -5.81L2.76 -5.14L3.29 -4.31L3.72 -3.35L4.03 -2.29L4.22 -1.17Z" fill="#00ff60"/><path d="M3.67 0.00L3.61 1.00L3.44 1.96L3.17 2.87L2.81 3.69L2.36 4.39L1.83 4.97L1.25 5.39L0.64 5.65L0.00 5.73L-1.10 5.68L-1.68 5.52L-2.13 5.24L-2.50 4.85L-2.79 4.35L-3.01 3.72L-3.16 2.93L-3.26 1.92L-3.29 0.00L-3.26 -1.92L-3.16 -2.93L-3.01 -3.72L-2.79 -4.35L-2.50 -4.85L-2.13 -5.24L-1.68 -5.52L-1.10 -5.68L-0.00 -5.73L0.64 -5.65L1.25 -5.39L1.83 -4.97L2.36 -4.39L2.81 -3.69L3.17 -2.87L3.44 -1.96L3.61 -1.00Z" fill="#40ff00"/><path d="M3.12 0.00L3.07 0.85L2.93 1.67L2.70 2.44L2.39 3.14L2.01 3.74L1.56 4.23L1.07 4.59L0.54 4.81L0.00 4.88L-0.94 4.83L-1.43 4.69L-1.82 4.46L-2.12 4.13L-2.37 3.70L-2.56 3.16L-2.69 2.50L-2.77 1.63L-2.80 0.00L-2.77 -1.63L-2.69 -2.50L-2.56 -3.16L-2.37 -3.70L-2.12 -4.13L-1.82 -4.46L-1.43 -4.69L-0.94 -4.83L-0.00 -4.88L0.54 -4.81L1.07 -4.59L1.56 -4.23L2.01 -3.74L2.39 -3.14L2.70 -2.44L2.93 -1.67L3.07 -0.85Z" fill="#c0ff00"/><path d="M2.50 0.00L2.46 0.68L2.35 1.34L2.16 1.95L1.91 2.51L1.60 2.99L1.25 3.38L0.85 3.67L0.43 3.84L0.00 3.90L-0.75 3.87L-1.15 3.76L-1.45 3.57L-1.70 3.30L-1.90 2.96L-2.05 2.53L-2.15 2.00L-2.22 1.31L-2.24 0.00L-2.22 -1.31L-2.15 -2.00L-2.05 -2.53L-1.90 -2.96L-1.70 -3.30L-1.45 -3.57L-1.15 -3.76L-0.75 -3.87L-0.00 -3.90L0.43 -3.84L0.85 -3.67L1.25 -3.38L1.60 -2.99L1.91 -2.51L2.16 -1.95L2.35 -1.34L2.46 -0.68Z" fill="#ffff00"/><path d="M1.64 0.00L1.61 0.44L1.54 0.88L1.42 1.28L1.25 1.65L1.05 1.96L0.82 2.22L0.56 2.41L0.28 2.52L0.00 2.56L-0.49 2.54L-0.75 2.46L-0.95 2.34L-1.12 2.17L-1.24 1.94L-1.34 1.66L-1.41 1.31L-1.46 0.86L-1.47 0.00L-1.46 -0.86L-1.41 -1.31L-1.34 -1.66L-1.24 -1.94L-1.12 -2.17L-0.95 -2.34L-0.75 -2.46L-0.49 -2.54L-0.00 -2.56L0.28 -2.52L0.56 -2.41L0.82 -2.22L1.05 -1.96L1.25 -1.65L1.42 -1.28L1.54 -0.88L1.61 -0.44Z" fill="#ffb000"/><path d="M0.86 0.00L0.84 0.23L0.81 0.46L0.74 0.67L0.66 0.86L0.55 1.03L0.43 1.16L0.29 1.26L0.15 1.32L0.00 1.34L-0.26 1.33L-0.39 1.29L-0.50 1.23L-0.58 1.14L-0.65 1.02L-0.70 0.87L-0.74 0.69L-0.76 0.45L-0.77 0.00L-0.76 -0.45L-0.74 -0.69L-0.70 -0.87L-0.65 -1.02L-0.58 -1.14L-0.50 -1.23L-0.39 -1.29L-0.26 -1.33L-0.00 -1.34L0.15 -1.32L0.29 -1.26L0.43 -1.16L0.55 -1.03L0.66 -0.86L0.74 -0.67L0.81 -0.46L0.84 -0.23Z" fill="#ff5000"/></g><g id="lb4"><path d="M10.30 0.00L10.07 1.78L9.43 3.43L8.49 4.90L7.38 6.20L6.20 7.38L4.90 8.49L3.43 9.43L1.78 10.07L0.00 10.30L-1.78 10.07L-3.43 9.43L-4.90 8.49L-6.20 7.38L-7.38 6.20L-8.49 4.90L-9.43 3.43L-10.07 1.78L-10.30 0.00L-10.07 -1.78L-9.43 -3.43L-8.49 -4.90L-7.38 -6.20L-6.20 -7.38L-4.90 -8.49L-3.43 -9.43L-1.78 -10.07L-0.00 -10.30L1.78 -10.07L3.43 -9.43L4.90 -8.49L6.20 -7.38L7.38 -6.20L8.49 -4.90L9.43 -3.43L10.07 -1.78Z" fill="#ff0090"/><path d="M9.48 0.00L9.26 1.63L8.67 3.16L7.81 4.51L6.79 5.70L5.70 6.79L4.51 7.81L3.16 8.67L1.63 9.26L0.00 9.48L-1.63 9.26L-3.16 8.67L-4.51 7.81L-5.70 6.79L-6.79 5.70L-7.81 4.51L-8.67 3.16L-9.26 1.63L-9.48 0.00L-9.26 -1.63L-8.67 -3.16L-7.81 -4.51L-6.79 -5.70L-5.70 -6.79L-4.51 -7.81L-3.16 -8.67L-1.63 -9.26L-0.00 -9.48L1.63 -9.26L3.16 -8.67L4.51 -7.81L5.70 -6.79L6.79 -5.70L7.81 -4.51L8.67 -3.16L9.26 -1.63Z" fill="#ff00d0"/><path d="M8.86 0.00L8.66 1.53L8.11 2.95L7.30 4.22L6.35 5.33L5.33 6.35L4.22 7.30L2.95 8.11L1.53 8.66L0.00 8.86L-1.53 8.66L-2.95 8.11L-4.22 7.30L-5.33 6.35L-6.35 5.33L-7.30 4.22L-8.11 2.95L-8.66 1.53L-8.86 0.00L-8.66 -1.53L-8.11 -2.95L-7.30 -4.22L-6.35 -5.33L-5.33 -6.35L-4.22 -7.30L-2.95 -8.11L-1.53 -8.66L-0.00 -8.86L1.53 -8.66L2.95 -8.11L4.22 -7.30L5.33 -6.35L6.35 -5.33L7.30 -4.22L8.11 -2.95L8.66 -1.53Z" fill="#9000ff"/><path d="M8.24 0.00L8.06 1.42L7.54 2.75L6.79 3.92L5.91 4.96L4.96 5.91L3.92 6.79L2.75 7.54L1.42 8.06L0.00 8.24L-1.42 8.06L-2.75 7.54L-3.92 6.79L-4.96 5.91L-5.91 4.96L-6.79 3.92L-7.54 2.75L-8.06 1.42L-8.24 0.00L-8.06 -1.42L-7.54 -2.75L-6.79 -3.92L-5.91 -4.96L-4.96 -5.91L-3.92 -6.79L-2.75 -7.54L-1.42 -8.06L-0.00 -8.24L1.42 -8.06L2.75 -7.54L3.92 -6.79L4.96 -5.91L5.91 -4.96L6.79 -3.92L7.54 -2.75L8.06 -1.42Z" fill="#0000ff"/><path d="M7.52 0.00L7.35 1.30L6.88 2.50L6.20 3.58L5.39 4.52L4.52 5.39L3.58 6.20L2.50 6.88L1.30 7.35L0.00 7.52L-1.30 7.35L-2.50 6.88L-3.58 6.20L-4.52 5.39L-5.39 4.52L-6.20 3.58L-6.88 2.50L-7.35 1.30L-7.52 0.00L-7.35 -1.30L-6.88 -2.50L-6.20 -3.58L-5.39 -4.52L-4.52 -5.39L-3.58 -6.20L-2.50 -6.88L-1.30 -7.35L-0.00 -7.52L1.30 -7.35L2.50 -6.88L3.58 -6.20L4.52 -5.39L5.39 -4.52L6.20 -3.58L6.88 -2.50L7.35 -1.30Z" fill="#0040ff"/><path d="M6.90 0.00L6.75 1.19L6.32 2.30L5.69 3.28L4.95 4.15L4.15 4.95L3.28 5.69L2.30 6.32L1.19 6.75L0.00 6.90L-1.19 6.75L-2.30 6.32L-3.28 5.69L-4.15 4.95L-4.95 4.15L-5.69 3.28L-6.32 2.30L-6.75 1.19L-6.90 0.00L-6.75 -1.19L-6.32 -2.30L-5.69 -3.28L-4.95 -4.15L-4.15 -4.95L-3.28 -5.69L-2.30 -6.32L-1.19 -6.75L-0.00 -6.90L1.19 -6.75L2.30 -6.32L3.28 -5.69L4.15 -4.95L4.95 -4.15L5.69 -3.28L6.32 -2.30L6.75 -1.19Z" fill="#00c0ff"/><path d="M6.39 0.00L6.24 1.10L5.85 2.13L5.26 3.04L4.58 3.84L3.84 4.58L3.04 5.26L2.13 5.85L1.10 6.24L0.00 6.39L-1.10 6.24L-2.13 5.85L-3.04 5.26L-3.84 4.58L-4.58 3.84L-5.26 3.04L-5.85 2.13L-6.24 1.10L-6.39 0.00L-6.24 -1.10L-5.85 -2.13L-5.26 -3.04L-4.58 -3.84L-3.84 -4.58L-3.04 -5.26L-2.13 -5.85L-1.10 -6.24L-0.00 -6.39L1.10 -6.24L2.13 -5.85L3.04 -5.26L3.84 -4.58L4.58 -3.84L5.26 -3.04L5.85 -2.13L6.24 -1.10Z" fill="#00ffe0"/><path d="M5.67 0.00L5.54 0.98L5.19 1.89L4.67 2.70L4.06 3.41L3.41 4.06L2.70 4.67L1.89 5.19L0.98 5.54L0.00 5.67L-0.98 5.54L-1.89 5.19L-2.70 4.67L-3.41 4.06L-4.06 3.41L-4.67 2.70L-5.19 1.89L-5.54 0.98L-5.67 0.00L-5.54 -0.98L-5.19 -1.89L-4.67 -2.70L-4.06 -3.41L-3.41 -4.06L-2.70 -4.67L-1.89 -5.19L-0.98 -5.54L-0.00 -5.67L0.98 -5.54L1.89 -5.19L2.70 -4.67L3.41 -4.06L4.06 -3.41L4.67 -2.70L5.19 -1.89L5.54 -0.98Z" fill="#00ff60"/><path d="M4.84 0.00L4.73 0.83L4.43 1.61L3.99 2.30L3.47 2.91L2.91 3.47L2.30 3.99L1.61 4.43L0.83 4.73L0.00 4.84L-0.83 4.73L-1.61 4.43L-2.30 3.99L-2.91 3.47L-3.47 2.91L-3.99 2.30L-4.43 1.61L-4.73 0.83L-4.84 0.00L-4.73 -0.83L-4.43 -1.61L-3.99 -2.30L-3.47 -2.91L-2.91 -3.47L-2.30 -3.99L-1.61 -4.43L-0.83 -4.73L-0.00 -4.84L0.83 -4.73L1.61 -4.43L2.30 -3.99L2.91 -3.47L3.47 -2.91L3.99 -2.30L4.43 -1.61L4.73 -0.83Z" fill="#40ff00"/><path d="M4.12 0.00L4.03 0.71L3.77 1.37L3.40 1.96L2.95 2.48L2.48 2.95L1.96 3.40L1.37 3.77L0.71 4.03L0.00 4.12L-0.71 4.03L-1.37 3.77L-1.96 3.40L-2.48 2.95L-2.95 2.48L-3.40 1.96L-3.77 1.37L-4.03 0.71L-4.12 0.00L-4.03 -0.71L-3.77 -1.37L-3.40 -1.96L-2.95 -2.48L-2.48 -2.95L-1.96 -3.40L-1.37 -3.77L-0.71 -4.03L-0.00 -4.12L0.71 -4.03L1.37 -3.77L1.96 -3.40L2.48 -2.95L2.95 -2.48L3.40 -1.96L3.77 -1.37L4.03 -0.71Z" fill="#c0ff00"/><path d="M3.30 0.00L3.22 0.57L3.02 1.10L2.72 1.57L2.36 1.98L1.98 2.36L1.57 2.72L1.10 3.02L0.57 3.22L0.00 3.30L-0.57 3.22L-1.10 3.02L-1.57 2.72L-1.98 2.36L-2.36 1.98L-2.72 1.57L-3.02 1.10L-3.22 0.57L-3.30 0.00L-3.22 -0.57L-3.02 -1.10L-2.72 -1.57L-2.36 -1.98L-1.98 -2.36L-1.57 -2.72L-1.10 -3.02L-0.57 -3.22L-0.00 -3.30L0.57 -3.22L1.10 -3.02L1.57 -2.72L1.98 -2.36L2.36 -1.98L2.72 -1.57L3.02 -1.10L3.22 -0.57Z" fill="#ffff00"/><path d="M2.16 0.00L2.11 0.37L1.98 0.72L1.78 1.03L1.55 1.30L1.30 1.55L1.03 1.78L0.72 1.98L0.37 2.11L0.00 2.16L-0.37 2.11L-0.72 1.98L-1.03 1.78L-1.30 1.55L-1.55 1.30L-1.78 1.03L-1.98 0.72L-2.11 0.37L-2.16 0.00L-2.11 -0.37L-1.98 -0.72L-1.78 -1.03L-1.55 -1.30L-1.30 -1.55L-1.03 -1.78L-0.72 -1.98L-0.37 -2.11L-0.00 -2.16L0.37 -2.11L0.72 -1.98L1.03 -1.78L1.30 -1.55L1.55 -1.30L1.78 -1.03L1.98 -0.72L2.11 -0.37Z" fill="#ffb000"/><path d="M1.13 0.00L1.11 0.20L1.04 0.38L0.93 0.54L0.81 0.68L0.68 0.81L0.54 0.93L0.38 1.04L0.20 1.11L0.00 1.13L-0.20 1.11L-0.38 1.04L-0.54 0.93L-0.68 0.81L-0.81 0.68L-0.93 0.54L-1.04 0.38L-1.11 0.20L-1.13 0.00L-1.11 -0.20L-1.04 -0.38L-0.93 -0.54L-0.81 -0.68L-0.68 -0.81L-0.54 -0.93L-0.38 -1.04L-0.20 -1.11L-0.00 -1.13L0.20 -1.11L0.38 -1.04L0.54 -0.93L0.68 -0.81L0.81 -0.68L0.93 -0.54L1.04 -0.38L1.11 -0.20Z" fill="#ff5000"/></g><g id="lb5"><path d="M7.90 0.00L7.72 1.36L7.23 2.63L6.51 3.76L5.66 4.75L4.75 5.66L3.76 6.51L2.63 7.23L1.36 7.72L0.00 7.90L-1.36 7.72L-2.63 7.23L-3.76 6.51L-4.75 5.66L-5.66 4.75L-6.51 3.76L-7.23 2.63L-7.72 1.36L-7.90 0.00L-7.72 -1.36L-7.23 -2.63L-6.51 -3.76L-5.66 -4.75L-4.75 -5.66L-3.76 -6.51L-2.63 -7.23L-1.36 -7.72L-0.00 -7.90L1.36 -7.72L2.63 -7.23L3.76 -6.51L4.75 -5.66L5.66 -4.75L6.51 -3.76L7.23 -2.63L7.72 -1.36Z" fill="#ff0090"/><path d="M7.27 0.00L7.11 1.25L6.65 2.42L5.99 3.46L5.21 4.37L4.37 5.21L3.46 5.99L2.42 6.65L1.25 7.11L0.00 7.27L-1.25 7.11L-2.42 6.65L-3.46 5.99L-4.37 5.21L-5.21 4.37L-5.99 3.46L-6.65 2.42L-7.11 1.25L-7.27 0.00L-7.11 -1.25L-6.65 -2.42L-5.99 -3.46L-5.21 -4.37L-4.37 -5.21L-3.46 -5.99L-2.42 -6.65L-1.25 -7.11L-0.00 -7.27L1.25 -7.11L2.42 -6.65L3.46 -5.99L4.37 -5.21L5.21 -4.37L5.99 -3.46L6.65 -2.42L7.11 -1.25Z" fill="#ff00d0"/><path d="M6.79 0.00L6.64 1.17L6.22 2.26L5.60 3.23L4.87 4.09L4.09 4.87L3.23 5.60L2.26 6.22L1.17 6.64L0.00 6.79L-1.17 6.64L-2.26 6.22L-3.23 5.60L-4.09 4.87L-4.87 4.09L-5.60 3.23L-6.22 2.26L-6.64 1.17L-6.79 0.00L-6.64 -1.17L-6.22 -2.26L-5.60 -3.23L-4.87 -4.09L-4.09 -4.87L-3.23 -5.60L-2.26 -6.22L-1.17 -6.64L-0.00 -6.79L1.17 -6.64L2.26 -6.22L3.23 -5.60L4.09 -4.87L4.87 -4.09L5.60 -3.23L6.22 -2.26L6.64 -1.17Z" fill="#9000ff"/><path d="M6.32 0.00L6.18 1.09L5.78 2.11L5.21 3.01L4.53 3.80L3.80 4.53L3.01 5.21L2.11 5.78L1.09 6.18L0.00 6.32L-1.09 6.18L-2.11 5.78L-3.01 5.21L-3.80 4.53L-4.53 3.80L-5.21 3.01L-5.78 2.11L-6.18 1.09L-6.32 0.00L-6.18 -1.09L-5.78 -2.11L-5.21 -3.01L-4.53 -3.80L-3.80 -4.53L-3.01 -5.21L-2.11 -5.78L-1.09 -6.18L-0.00 -6.32L1.09 -6.18L2.11 -5.78L3.01 -5.21L3.80 -4.53L4.53 -3.80L5.21 -3.01L5.78 -2.11L6.18 -1.09Z" fill="#0000ff"/><path d="M5.77 0.00L5.64 0.99L5.28 1.92L4.75 2.74L4.13 3.47L3.47 4.13L2.74 4.75L1.92 5.28L0.99 5.64L0.00 5.77L-0.99 5.64L-1.92 5.28L-2.74 4.75L-3.47 4.13L-4.13 3.47L-4.75 2.74L-5.28 1.92L-5.64 0.99L-5.77 0.00L-5.64 -0.99L-5.28 -1.92L-4.75 -2.74L-4.13 -3.47L-3.47 -4.13L-2.74 -4.75L-1.92 -5.28L-0.99 -5.64L-0.00 -5.77L0.99 -5.64L1.92 -5.28L2.74 -4.75L3.47 -4.13L4.13 -3.47L4.75 -2.74L5.28 -1.92L5.64 -0.99Z" fill="#0040ff"/><path d="M5.29 0.00L5.17 0.91L4.84 1.76L4.36 2.52L3.79 3.18L3.18 3.79L2.52 4.36L1.76 4.84L0.91 5.17L0.00 5.29L-0.91 5.17L-1.76 4.84L-2.52 4.36L-3.18 3.79L-3.79 3.18L-4.36 2.52L-4.84 1.76L-5.17 0.91L-5.29 0.00L-5.17 -0.91L-4.84 -1.76L-4.36 -2.52L-3.79 -3.18L-3.18 -3.79L-2.52 -4.36L-1.76 -4.84L-0.91 -5.17L-0.00 -5.29L0.91 -5.17L1.76 -4.84L2.52 -4.36L3.18 -3.79L3.79 -3.18L4.36 -2.52L4.84 -1.76L5.17 -0.91Z" fill="#00c0ff"/><path d="M4.90 0.00L4.79 0.84L4.48 1.63L4.04 2.33L3.51 2.95L2.95 3.51L2.33 4.04L1.63 4.48L0.84 4.79L0.00 4.90L-0.84 4.79L-1.63 4.48L-2.33 4.04L-2.95 3.51L-3.51 2.95L-4.04 2.33L-4.48 1.63L-4.79 0.84L-4.90 0.00L-4.79 -0.84L-4.48 -1.63L-4.04 -2.33L-3.51 -2.95L-2.95 -3.51L-2.33 -4.04L-1.63 -4.48L-0.84 -4.79L-0.00 -4.90L0.84 -4.79L1.63 -4.48L2.33 -4.04L2.95 -3.51L3.51 -2.95L4.04 -2.33L4.48 -1.63L4.79 -0.84Z" fill="#00ffe0"/><path d="M4.35 0.00L4.25 0.75L3.98 1.45L3.58 2.07L3.11 2.61L2.61 3.11L2.07 3.58L1.45 3.98L0.75 4.25L0.00 4.35L-0.75 4.25L-1.45 3.98L-2.07 3.58L-2.61 3.11L-3.11 2.61L-3.58 2.07L-3.98 1.45L-4.25 0.75L-4.35 0.00L-4.25 -0.75L-3.98 -1.45L-3.58 -2.07L-3.11 -2.61L-2.61 -3.11L-2.07 -3.58L-1.45 -3.98L-0.75 -4.25L-0.00 -4.35L0.75 -4.25L1.45 -3.98L2.07 -3.58L2.61 -3.11L3.11 -2.61L3.58 -2.07L3.98 -1.45L4.25 -0.75Z" fill="#00ff60"/><path d="M3.71 0.00L3.63 0.64L3.40 1.24L3.06 1.77L2.66 2.23L2.23 2.66L1.77 3.06L1.24 3.40L0.64 3.63L0.00 3.71L-0.64 3.63L-1.24 3.40L-1.77 3.06L-2.23 2.66L-2.66 2.23L-3.06 1.77L-3.40 1.24L-3.63 0.64L-3.71 0.00L-3.63 -0.64L-3.40 -1.24L-3.06 -1.77L-2.66 -2.23L-2.23 -2.66L-1.77 -3.06L-1.24 -3.40L-0.64 -3.63L-0.00 -3.71L0.64 -3.63L1.24 -3.40L1.77 -3.06L2.23 -2.66L2.66 -2.23L3.06 -1.77L3.40 -1.24L3.63 -0.64Z" fill="#40ff00"/><path d="M3.16 0.00L3.09 0.54L2.89 1.05L2.61 1.50L2.27 1.90L1.90 2.27L1.50 2.61L1.05 2.89L0.54 3.09L0.00 3.16L-0.54 3.09L-1.05 2.89L-1.50 2.61L-1.90 2.27L-2.27 1.90L-2.61 1.50L-2.89 1.05L-3.09 0.54L-3.16 0.00L-3.09 -0.54L-2.89 -1.05L-2.61 -1.50L-2.27 -1.90L-1.90 -2.27L-1.50 -2.61L-1.05 -2.89L-0.54 -3.09L-0.00 -3.16L0.54 -3.09L1.05 -2.89L1.50 -2.61L1.90 -2.27L2.27 -1.90L2.61 -1.50L2.89 -1.05L3.09 -0.54Z" fill="#c0ff00"/><path d="M2.53 0.00L2.47 0.44L2.31 0.84L2.08 1.20L1.81 1.52L1.52 1.81L1.20 2.08L0.84 2.31L0.44 2.47L0.00 2.53L-0.44 2.47L-0.84 2.31L-1.20 2.08L-1.52 1.81L-1.81 1.52L-2.08 1.20L-2.31 0.84L-2.47 0.44L-2.53 0.00L-2.47 -0.44L-2.31 -0.84L-2.08 -1.20L-1.81 -1.52L-1.52 -1.81L-1.20 -2.08L-0.84 -2.31L-0.44 -2.47L-0.00 -2.53L0.44 -2.47L0.84 -2.31L1.20 -2.08L1.52 -1.81L1.81 -1.52L2.08 -1.20L2.31 -0.84L2.47 -0.44Z" fill="#ffff00"/><path d="M1.66 0.00L1.62 0.29L1.52 0.55L1.37 0.79L1.19 1.00L1.00 1.19L0.79 1.37L0.55 1.52L0.29 1.62L0.00 1.66L-0.29 1.62L-0.55 1.52L-0.79 1.37L-1.00 1.19L-1.19 1.00L-1.37 0.79L-1.52 0.55L-1.62 0.29L-1.66 0.00L-1.62 -0.29L-1.52 -0.55L-1.37 -0.79L-1.19 -1.00L-1.00 -1.19L-0.79 -1.37L-0.55 -1.52L-0.29 -1.62L-0.00 -1.66L0.29 -1.62L0.55 -1.52L0.79 -1.37L1.00 -1.19L1.19 -1.00L1.37 -0.79L1.52 -0.55L1.62 -0.29Z" fill="#ffb000"/><path d="M0.87 0.00L0.85 0.15L0.80 0.29L0.72 0.41L0.62 0.52L0.52 0.62L0.41 0.72L0.29 0.80L0.15 0.85L0.00 0.87L-0.15 0.85L-0.29 0.80L-0.41 0.72L-0.52 0.62L-0.62 0.52L-0.72 0.41L-0.80 0.29L-0.85 0.15L-0.87 0.00L-0.85 -0.15L-0.80 -0.29L-0.72 -0.41L-0.62 -0.52L-0.52 -0.62L-0.41 -0.72L-0.29 -0.80L-0.15 -0.85L-0.00 -0.87L0.15 -0.85L0.29 -0.80L0.41 -0.72L0.52 -0.62L0.62 -0.52L0.72 -0.41L0.80 -0.29L0.85 -0.15Z" fill="#ff5000"/></g><g id="lb6"><path d="M8.86 0.00L8.91 1.57L9.00 3.28L8.92 5.15L8.44 7.08L7.42 8.85L5.87 10.17L3.95 10.85L1.91 10.85L0.00 10.30L-1.66 9.43L-3.10 8.51L-4.43 7.67L-5.82 6.93L-7.34 6.16L-8.92 5.15L-10.36 3.77L-11.37 2.01L-11.74 0.00L-11.37 -2.01L-10.36 -3.77L-8.92 -5.15L-7.34 -6.16L-5.82 -6.93L-4.43 -7.67L-3.10 -8.51L-1.66 -9.43L-0.00 -10.30L1.91 -10.85L3.95 -10.85L5.87 -10.17L7.42 -8.85L8.44 -7.08L8.92 -5.15L9.00 -3.28L8.91 -1.57Z" fill="#ff0090"/><path d="M8.15 0.00L8.20 1.45L8.28 3.01L8.21 4.74L7.77 6.52L6.83 8.14L5.40 9.36L3.63 9.98L1.76 9.99L0.00 9.48L-1.53 8.68L-2.85 7.82L-4.07 7.06L-5.35 6.38L-6.75 5.66L-8.21 4.74L-9.53 3.47L-10.46 1.84L-10.80 0.00L-10.46 -1.84L-9.53 -3.47L-8.21 -4.74L-6.75 -5.66L-5.35 -6.38L-4.07 -7.06L-2.85 -7.82L-1.53 -8.68L-0.00 -9.48L1.76 -9.99L3.63 -9.98L5.40 -9.36L6.83 -8.14L7.77 -6.52L8.21 -4.74L8.28 -3.01L8.20 -1.45Z" fill="#ff00d0"/><path d="M7.62 0.00L7.67 1.35L7.74 2.82L7.67 4.43L7.26 6.09L6.38 7.61L5.05 8.75L3.40 9.33L1.65 9.33L0.00 8.86L-1.43 8.11L-2.66 7.31L-3.81 6.60L-5.00 5.96L-6.31 5.30L-7.67 4.43L-8.91 3.24L-9.78 1.72L-10.10 0.00L-9.78 -1.72L-8.91 -3.24L-7.67 -4.43L-6.31 -5.30L-5.00 -5.96L-3.81 -6.60L-2.66 -7.31L-1.43 -8.11L-0.00 -8.86L1.65 -9.33L3.40 -9.33L5.05 -8.75L6.38 -7.61L7.26 -6.09L7.67 -4.43L7.74 -2.82L7.67 -1.35Z" fill="#9000ff"/><path d="M7.09 0.00L7.13 1.26L7.20 2.62L7.14 4.12L6.75 5.67L5.94 7.08L4.70 8.14L3.16 8.68L1.53 8.68L0.00 8.24L-1.33 7.55L-2.48 6.80L-3.54 6.14L-4.65 5.55L-5.87 4.93L-7.14 4.12L-8.29 3.02L-9.10 1.60L-9.39 0.00L-9.10 -1.60L-8.29 -3.02L-7.14 -4.12L-5.87 -4.93L-4.65 -5.55L-3.54 -6.14L-2.48 -6.80L-1.33 -7.55L-0.00 -8.24L1.53 -8.68L3.16 -8.68L4.70 -8.14L5.94 -7.08L6.75 -5.67L7.14 -4.12L7.20 -2.62L7.13 -1.26Z" fill="#0000ff"/><path d="M6.47 0.00L6.51 1.15L6.57 2.39L6.51 3.76L6.16 5.17L5.42 6.46L4.29 7.42L2.88 7.92L1.40 7.92L0.00 7.52L-1.21 6.89L-2.26 6.21L-3.23 5.60L-4.25 5.06L-5.36 4.49L-6.51 3.76L-7.56 2.75L-8.30 1.46L-8.57 0.00L-8.30 -1.46L-7.56 -2.75L-6.51 -3.76L-5.36 -4.49L-4.25 -5.06L-3.23 -5.60L-2.26 -6.21L-1.21 -6.89L-0.00 -7.52L1.40 -7.92L2.88 -7.92L4.29 -7.42L5.42 -6.46L6.16 -5.17L6.51 -3.76L6.57 -2.39L6.51 -1.15Z" fill="#0040ff"/><path d="M5.93 0.00L5.97 1.05L6.03 2.20L5.98 3.45L5.66 4.75L4.97 5.93L3.93 6.81L2.65 7.27L1.28 7.27L0.00 6.90L-1.11 6.32L-2.07 5.70L-2.97 5.14L-3.90 4.65L-4.92 4.13L-5.98 3.45L-6.94 2.53L-7.62 1.34L-7.87 0.00L-7.62 -1.34L-6.94 -2.53L-5.98 -3.45L-4.92 -4.13L-3.90 -4.65L-2.97 -5.14L-2.07 -5.70L-1.11 -6.32L-0.00 -6.90L1.28 -7.27L2.65 -7.27L3.93 -6.81L4.97 -5.93L5.66 -4.75L5.98 -3.45L6.03 -2.20L5.97 -1.05Z" fill="#00c0ff"/><path d="M5.49 0.00L5.53 0.97L5.58 2.03L5.53 3.19L5.23 4.39L4.60 5.49L3.64 6.30L2.45 6.73L1.19 6.73L0.00 6.39L-1.03 5.85L-1.92 5.27L-2.75 4.76L-3.61 4.30L-4.55 3.82L-5.53 3.19L-6.42 2.34L-7.05 1.24L-7.28 0.00L-7.05 -1.24L-6.42 -2.34L-5.53 -3.19L-4.55 -3.82L-3.61 -4.30L-2.75 -4.76L-1.92 -5.27L-1.03 -5.85L-0.00 -6.39L1.19 -6.73L2.45 -6.73L3.64 -6.30L4.60 -5.49L5.23 -4.39L5.53 -3.19L5.58 -2.03L5.53 -0.97Z" fill="#00ffe0"/><path d="M4.87 0.00L4.90 0.86L4.95 1.80L4.91 2.83L4.64 3.90L4.08 4.87L3.23 5.59L2.17 5.97L1.05 5.97L0.00 5.67L-0.91 5.19L-1.70 4.68L-2.44 4.22L-3.20 3.81L-4.04 3.39L-4.91 2.83L-5.70 2.07L-6.26 1.10L-6.46 0.00L-6.26 -1.10L-5.70 -2.07L-4.91 -2.83L-4.04 -3.39L-3.20 -3.81L-2.44 -4.22L-1.70 -4.68L-0.91 -5.19L-0.00 -5.67L1.05 -5.97L2.17 -5.97L3.23 -5.59L4.08 -4.87L4.64 -3.90L4.91 -2.83L4.95 -1.80L4.90 -0.86Z" fill="#00ff60"/><path d="M4.16 0.00L4.19 0.74L4.23 1.54L4.19 2.42L3.97 3.33L3.49 4.16L2.76 4.78L1.86 5.10L0.90 5.10L0.00 4.84L-0.78 4.43L-1.45 4.00L-2.08 3.61L-2.73 3.26L-3.45 2.89L-4.19 2.42L-4.87 1.77L-5.35 0.94L-5.52 0.00L-5.35 -0.94L-4.87 -1.77L-4.19 -2.42L-3.45 -2.89L-2.73 -3.26L-2.08 -3.61L-1.45 -4.00L-0.78 -4.43L-0.00 -4.84L0.90 -5.10L1.86 -5.10L2.76 -4.78L3.49 -4.16L3.97 -3.33L4.19 -2.42L4.23 -1.54L4.19 -0.74Z" fill="#40ff00"/><path d="M3.54 0.00L3.57 0.63L3.60 1.31L3.57 2.06L3.38 2.83L2.97 3.54L2.35 4.07L1.58 4.34L0.77 4.34L0.00 4.12L-0.67 3.77L-1.24 3.40L-1.77 3.07L-2.33 2.77L-2.94 2.46L-3.57 2.06L-4.14 1.51L-4.55 0.80L-4.70 0.00L-4.55 -0.80L-4.14 -1.51L-3.57 -2.06L-2.94 -2.46L-2.33 -2.77L-1.77 -3.07L-1.24 -3.40L-0.67 -3.77L-0.00 -4.12L0.77 -4.34L1.58 -4.34L2.35 -4.07L2.97 -3.54L3.38 -2.83L3.57 -2.06L3.60 -1.31L3.57 -0.63Z" fill="#c0ff00"/><path d="M2.83 0.00L2.85 0.50L2.88 1.05L2.85 1.65L2.70 2.27L2.38 2.83L1.88 3.25L1.26 3.47L0.61 3.47L0.00 3.30L-0.53 3.02L-0.99 2.72L-1.42 2.45L-1.86 2.22L-2.35 1.97L-2.85 1.65L-3.31 1.21L-3.64 0.64L-3.76 0.00L-3.64 -0.64L-3.31 -1.21L-2.85 -1.65L-2.35 -1.97L-1.86 -2.22L-1.42 -2.45L-0.99 -2.72L-0.53 -3.02L-0.00 -3.30L0.61 -3.47L1.26 -3.47L1.88 -3.25L2.38 -2.83L2.70 -2.27L2.85 -1.65L2.88 -1.05L2.85 -0.50Z" fill="#ffff00"/><path d="M1.86 0.00L1.87 0.33L1.89 0.69L1.87 1.08L1.77 1.49L1.56 1.86L1.23 2.14L0.83 2.28L0.40 2.28L0.00 2.16L-0.35 1.98L-0.65 1.79L-0.93 1.61L-1.22 1.46L-1.54 1.29L-1.87 1.08L-2.17 0.79L-2.39 0.42L-2.47 0.00L-2.39 -0.42L-2.17 -0.79L-1.87 -1.08L-1.54 -1.29L-1.22 -1.46L-0.93 -1.61L-0.65 -1.79L-0.35 -1.98L-0.00 -2.16L0.40 -2.28L0.83 -2.28L1.23 -2.14L1.56 -1.86L1.77 -1.49L1.87 -1.08L1.89 -0.69L1.87 -0.33Z" fill="#ffb000"/><path d="M0.97 0.00L0.98 0.17L0.99 0.36L0.98 0.57L0.93 0.78L0.82 0.97L0.65 1.12L0.43 1.19L0.21 1.19L0.00 1.13L-0.18 1.04L-0.34 0.94L-0.49 0.84L-0.64 0.76L-0.81 0.68L-0.98 0.57L-1.14 0.41L-1.25 0.22L-1.29 0.00L-1.25 -0.22L-1.14 -0.41L-0.98 -0.57L-0.81 -0.68L-0.64 -0.76L-0.49 -0.84L-0.34 -0.94L-0.18 -1.04L-0.00 -1.13L0.21 -1.19L0.43 -1.19L0.65 -1.12L0.82 -0.97L0.93 -0.78L0.98 -0.57L0.99 -0.36L0.98 -0.17Z" fill="#ff5000"/></g><g id="lb7"><path d="M6.69 0.00L6.59 1.16L6.29 2.29L5.80 3.35L5.15 4.32L4.35 5.18L3.42 5.92L2.38 6.53L1.23 7.00L0.00 7.30L-1.31 7.41L-2.66 7.31L-4.03 6.98L-5.35 6.38L-6.58 5.52L-7.63 4.40L-8.43 3.07L-8.95 1.58L-9.12 0.00L-8.95 -1.58L-8.43 -3.07L-7.63 -4.40L-6.58 -5.52L-5.35 -6.38L-4.03 -6.98L-2.66 -7.31L-1.31 -7.41L-0.00 -7.30L1.23 -7.00L2.38 -6.53L3.42 -5.92L4.35 -5.18L5.15 -4.32L5.80 -3.35L6.29 -2.29L6.59 -1.16Z" fill="#ff0090"/><path d="M6.15 0.00L6.06 1.07L5.78 2.11L5.34 3.08L4.74 3.97L4.00 4.77L3.15 5.45L2.19 6.01L1.13 6.44L0.00 6.71L-1.20 6.82L-2.45 6.73L-3.71 6.42L-4.93 5.87L-6.05 5.08L-7.02 4.05L-7.76 2.82L-8.23 1.45L-8.39 0.00L-8.23 -1.45L-7.76 -2.82L-7.02 -4.05L-6.05 -5.08L-4.93 -5.87L-3.71 -6.42L-2.45 -6.73L-1.20 -6.82L-0.00 -6.71L1.13 -6.44L2.19 -6.01L3.15 -5.45L4.00 -4.77L4.74 -3.97L5.34 -3.08L5.78 -2.11L6.06 -1.07Z" fill="#ff00d0"/><path d="M5.75 0.00L5.66 1.00L5.41 1.97L4.99 2.88L4.43 3.72L3.74 4.46L2.94 5.09L2.04 5.62L1.06 6.02L0.00 6.27L-1.12 6.37L-2.29 6.29L-3.46 6.00L-4.60 5.49L-5.66 4.75L-6.56 3.79L-7.25 2.64L-7.69 1.36L-7.84 0.00L-7.69 -1.36L-7.25 -2.64L-6.56 -3.79L-5.66 -4.75L-4.60 -5.49L-3.46 -6.00L-2.29 -6.29L-1.12 -6.37L-0.00 -6.27L1.06 -6.02L2.04 -5.62L2.94 -5.09L3.74 -4.46L4.43 -3.72L4.99 -2.88L5.41 -1.97L5.66 -1.00Z" fill="#9000ff"/><path d="M5.35 0.00L5.27 0.93L5.03 1.83L4.64 2.68L4.12 3.46L3.48 4.15L2.74 4.74L1.90 5.23L0.99 5.60L0.00 5.84L-1.05 5.93L-2.13 5.85L-3.22 5.58L-4.28 5.10L-5.26 4.41L-6.10 3.52L-6.75 2.46L-7.16 1.26L-7.30 0.00L-7.16 -1.26L-6.75 -2.46L-6.10 -3.52L-5.26 -4.41L-4.28 -5.10L-3.22 -5.58L-2.13 -5.85L-1.05 -5.93L-0.00 -5.84L0.99 -5.60L1.90 -5.23L2.74 -4.74L3.48 -4.15L4.12 -3.46L4.64 -2.68L5.03 -1.83L5.27 -0.93Z" fill="#0000ff"/><path d="M4.88 0.00L4.81 0.85L4.59 1.67L4.24 2.45L3.76 3.15L3.17 3.78L2.50 4.32L1.74 4.77L0.90 5.11L0.00 5.33L-0.95 5.41L-1.94 5.34L-2.94 5.09L-3.91 4.66L-4.80 4.03L-5.57 3.21L-6.16 2.24L-6.53 1.15L-6.66 0.00L-6.53 -1.15L-6.16 -2.24L-5.57 -3.21L-4.80 -4.03L-3.91 -4.66L-2.94 -5.09L-1.94 -5.34L-0.95 -5.41L-0.00 -5.33L0.90 -5.11L1.74 -4.77L2.50 -4.32L3.17 -3.78L3.76 -3.15L4.24 -2.45L4.59 -1.67L4.81 -0.85Z" fill="#0040ff"/><path d="M4.48 0.00L4.41 0.78L4.21 1.53L3.89 2.24L3.45 2.89L2.91 3.47L2.29 3.97L1.59 4.38L0.83 4.69L0.00 4.89L-0.88 4.97L-1.78 4.90L-2.70 4.67L-3.59 4.27L-4.41 3.70L-5.11 2.95L-5.65 2.06L-5.99 1.06L-6.11 0.00L-5.99 -1.06L-5.65 -2.06L-5.11 -2.95L-4.41 -3.70L-3.59 -4.27L-2.70 -4.67L-1.78 -4.90L-0.88 -4.97L-0.00 -4.89L0.83 -4.69L1.59 -4.38L2.29 -3.97L2.91 -3.47L3.45 -2.89L3.89 -2.24L4.21 -1.53L4.41 -0.78Z" fill="#00c0ff"/><path d="M4.15 0.00L4.08 0.72L3.90 1.42L3.60 2.08L3.19 2.68L2.70 3.21L2.12 3.67L1.47 4.05L0.76 4.34L0.00 4.52L-0.81 4.59L-1.65 4.53L-2.50 4.33L-3.32 3.96L-4.08 3.42L-4.73 2.73L-5.23 1.90L-5.55 0.98L-5.65 0.00L-5.55 -0.98L-5.23 -1.90L-4.73 -2.73L-4.08 -3.42L-3.32 -3.96L-2.50 -4.33L-1.65 -4.53L-0.81 -4.59L-0.00 -4.52L0.76 -4.34L1.47 -4.05L2.12 -3.67L2.70 -3.21L3.19 -2.68L3.60 -2.08L3.90 -1.42L4.08 -0.72Z" fill="#00ffe0"/><path d="M3.68 0.00L3.62 0.64L3.46 1.26L3.19 1.84L2.83 2.38L2.39 2.85L1.88 3.26L1.31 3.59L0.68 3.85L0.00 4.01L-0.72 4.08L-1.46 4.02L-2.22 3.84L-2.94 3.51L-3.62 3.03L-4.19 2.42L-4.64 1.69L-4.92 0.87L-5.02 0.00L-4.92 -0.87L-4.64 -1.69L-4.19 -2.42L-3.62 -3.03L-2.94 -3.51L-2.22 -3.84L-1.46 -4.02L-0.72 -4.08L-0.00 -4.01L0.68 -3.85L1.31 -3.59L1.88 -3.26L2.39 -2.85L2.83 -2.38L3.19 -1.84L3.46 -1.26L3.62 -0.64Z" fill="#00ff60"/><path d="M3.14 0.00L3.10 0.55L2.95 1.08L2.73 1.57L2.42 2.03L2.04 2.44L1.61 2.78L1.12 3.07L0.58 3.29L0.00 3.43L-0.61 3.48L-1.25 3.44L-1.89 3.28L-2.52 3.00L-3.09 2.59L-3.58 2.07L-3.96 1.44L-4.20 0.74L-4.29 0.00L-4.20 -0.74L-3.96 -1.44L-3.58 -2.07L-3.09 -2.59L-2.52 -3.00L-1.89 -3.28L-1.25 -3.44L-0.61 -3.48L-0.00 -3.43L0.58 -3.29L1.12 -3.07L1.61 -2.78L2.04 -2.44L2.42 -2.03L2.73 -1.57L2.95 -1.08L3.10 -0.55Z" fill="#40ff00"/><path d="M2.68 0.00L2.63 0.46L2.51 0.92L2.32 1.34L2.06 1.73L1.74 2.07L1.37 2.37L0.95 2.61L0.49 2.80L0.00 2.92L-0.52 2.96L-1.06 2.93L-1.61 2.79L-2.14 2.55L-2.63 2.21L-3.05 1.76L-3.37 1.23L-3.58 0.63L-3.65 0.00L-3.58 -0.63L-3.37 -1.23L-3.05 -1.76L-2.63 -2.21L-2.14 -2.55L-1.61 -2.79L-1.06 -2.93L-0.52 -2.96L-0.00 -2.92L0.49 -2.80L0.95 -2.61L1.37 -2.37L1.74 -2.07L2.06 -1.73L2.32 -1.34L2.51 -0.92L2.63 -0.46Z" fill="#c0ff00"/><path d="M2.14 0.00L2.11 0.37L2.01 0.73L1.86 1.07L1.65 1.38L1.39 1.66L1.09 1.90L0.76 2.09L0.39 2.24L0.00 2.33L-0.42 2.37L-0.85 2.34L-1.29 2.23L-1.71 2.04L-2.10 1.77L-2.44 1.41L-2.70 0.98L-2.86 0.50L-2.92 0.00L-2.86 -0.50L-2.70 -0.98L-2.44 -1.41L-2.10 -1.77L-1.71 -2.04L-1.29 -2.23L-0.85 -2.34L-0.42 -2.37L-0.00 -2.33L0.39 -2.24L0.76 -2.09L1.09 -1.90L1.39 -1.66L1.65 -1.38L1.86 -1.07L2.01 -0.73L2.11 -0.37Z" fill="#ffff00"/><path d="M1.40 0.00L1.38 0.24L1.32 0.48L1.22 0.70L1.08 0.91L0.91 1.09L0.72 1.24L0.50 1.37L0.26 1.47L0.00 1.53L-0.27 1.56L-0.56 1.54L-0.85 1.47L-1.12 1.34L-1.38 1.16L-1.60 0.92L-1.77 0.64L-1.88 0.33L-1.92 0.00L-1.88 -0.33L-1.77 -0.64L-1.60 -0.92L-1.38 -1.16L-1.12 -1.34L-0.85 -1.47L-0.56 -1.54L-0.27 -1.56L-0.00 -1.53L0.26 -1.47L0.50 -1.37L0.72 -1.24L0.91 -1.09L1.08 -0.91L1.22 -0.70L1.32 -0.48L1.38 -0.24Z" fill="#ffb000"/><path d="M0.74 0.00L0.72 0.13L0.69 0.25L0.64 0.37L0.57 0.48L0.48 0.57L0.38 0.65L0.26 0.72L0.14 0.77L0.00 0.80L-0.14 0.82L-0.29 0.80L-0.44 0.77L-0.59 0.70L-0.72 0.61L-0.84 0.48L-0.93 0.34L-0.98 0.17L-1.00 0.00L-0.98 -0.17L-0.93 -0.34L-0.84 -0.48L-0.72 -0.61L-0.59 -0.70L-0.44 -0.77L-0.29 -0.80L-0.14 -0.82L-0.00 -0.80L0.14 -0.77L0.26 -0.72L0.38 -0.65L0.48 -0.57L0.57 -0.48L0.64 -0.37L0.69 -0.25L0.72 -0.13Z" fill="#ff5000"/></g><g id="lb8"><path d="M12.50 0.00L12.31 1.08L11.75 2.12L10.83 3.10L9.58 3.99L8.03 4.75L6.25 5.37L4.28 5.83L2.17 6.11L0.00 6.20L-2.17 6.11L-4.28 5.83L-6.25 5.37L-8.03 4.75L-9.58 3.99L-10.83 3.10L-11.75 2.12L-12.31 1.08L-12.50 0.00L-12.31 -1.08L-11.75 -2.12L-10.83 -3.10L-9.58 -3.99L-8.03 -4.75L-6.25 -5.37L-4.28 -5.83L-2.17 -6.11L-0.00 -6.20L2.17 -6.11L4.28 -5.83L6.25 -5.37L8.03 -4.75L9.58 -3.99L10.83 -3.10L11.75 -2.12L12.31 -1.08Z" fill="#ff0090"/><path d="M11.50 0.00L11.33 0.99L10.81 1.95L9.96 2.85L8.81 3.67L7.39 4.37L5.75 4.94L3.93 5.36L2.00 5.62L0.00 5.70L-2.00 5.62L-3.93 5.36L-5.75 4.94L-7.39 4.37L-8.81 3.67L-9.96 2.85L-10.81 1.95L-11.33 0.99L-11.50 0.00L-11.33 -0.99L-10.81 -1.95L-9.96 -2.85L-8.81 -3.67L-7.39 -4.37L-5.75 -4.94L-3.93 -5.36L-2.00 -5.62L-0.00 -5.70L2.00 -5.62L3.93 -5.36L5.75 -4.94L7.39 -4.37L8.81 -3.67L9.96 -2.85L10.81 -1.95L11.33 -0.99Z" fill="#ff00d0"/><path d="M10.75 0.00L10.59 0.93L10.10 1.82L9.31 2.67L8.23 3.43L6.91 4.08L5.38 4.62L3.68 5.01L1.87 5.25L0.00 5.33L-1.87 5.25L-3.68 5.01L-5.37 4.62L-6.91 4.08L-8.23 3.43L-9.31 2.67L-10.10 1.82L-10.59 0.93L-10.75 0.00L-10.59 -0.93L-10.10 -1.82L-9.31 -2.67L-8.23 -3.43L-6.91 -4.08L-5.38 -4.62L-3.68 -5.01L-1.87 -5.25L-0.00 -5.33L1.87 -5.25L3.68 -5.01L5.37 -4.62L6.91 -4.08L8.23 -3.43L9.31 -2.67L10.10 -1.82L10.59 -0.93Z" fill="#9000ff"/><path d="M10.00 0.00L9.85 0.86L9.40 1.70L8.66 2.48L7.66 3.19L6.43 3.80L5.00 4.30L3.42 4.66L1.74 4.88L0.00 4.96L-1.74 4.88L-3.42 4.66L-5.00 4.30L-6.43 3.80L-7.66 3.19L-8.66 2.48L-9.40 1.70L-9.85 0.86L-10.00 0.00L-9.85 -0.86L-9.40 -1.70L-8.66 -2.48L-7.66 -3.19L-6.43 -3.80L-5.00 -4.30L-3.42 -4.66L-1.74 -4.88L-0.00 -4.96L1.74 -4.88L3.42 -4.66L5.00 -4.30L6.43 -3.80L7.66 -3.19L8.66 -2.48L9.40 -1.70L9.85 -0.86Z" fill="#0000ff"/><path d="M9.12 0.00L8.99 0.79L8.57 1.55L7.90 2.26L6.99 2.91L5.87 3.47L4.56 3.92L3.12 4.25L1.58 4.46L0.00 4.53L-1.58 4.46L-3.12 4.25L-4.56 3.92L-5.87 3.47L-6.99 2.91L-7.90 2.26L-8.57 1.55L-8.99 0.79L-9.12 0.00L-8.99 -0.79L-8.57 -1.55L-7.90 -2.26L-6.99 -2.91L-5.87 -3.47L-4.56 -3.92L-3.12 -4.25L-1.58 -4.46L-0.00 -4.53L1.58 -4.46L3.12 -4.25L4.56 -3.92L5.87 -3.47L6.99 -2.91L7.90 -2.26L8.57 -1.55L8.99 -0.79Z" fill="#0040ff"/><path d="M8.38 0.00L8.25 0.72L7.87 1.42L7.25 2.08L6.42 2.67L5.38 3.18L4.19 3.60L2.86 3.90L1.45 4.09L0.00 4.15L-1.45 4.09L-2.86 3.90L-4.19 3.60L-5.38 3.18L-6.42 2.67L-7.25 2.08L-7.87 1.42L-8.25 0.72L-8.38 0.00L-8.25 -0.72L-7.87 -1.42L-7.25 -2.08L-6.42 -2.67L-5.38 -3.18L-4.19 -3.60L-2.86 -3.90L-1.45 -4.09L-0.00 -4.15L1.45 -4.09L2.86 -3.90L4.19 -3.60L5.38 -3.18L6.42 -2.67L7.25 -2.08L7.87 -1.42L8.25 -0.72Z" fill="#00c0ff"/><path d="M7.75 0.00L7.63 0.67L7.28 1.31L6.71 1.92L5.94 2.47L4.98 2.94L3.88 3.33L2.65 3.61L1.35 3.79L0.00 3.84L-1.35 3.79L-2.65 3.61L-3.87 3.33L-4.98 2.94L-5.94 2.47L-6.71 1.92L-7.28 1.31L-7.63 0.67L-7.75 0.00L-7.63 -0.67L-7.28 -1.31L-6.71 -1.92L-5.94 -2.47L-4.98 -2.94L-3.88 -3.33L-2.65 -3.61L-1.35 -3.79L-0.00 -3.84L1.35 -3.79L2.65 -3.61L3.87 -3.33L4.98 -2.94L5.94 -2.47L6.71 -1.92L7.28 -1.31L7.63 -0.67Z" fill="#00ffe0"/><path d="M6.88 0.00L6.77 0.59L6.46 1.17L5.95 1.70L5.27 2.19L4.42 2.61L3.44 2.95L2.35 3.20L1.19 3.36L0.00 3.41L-1.19 3.36L-2.35 3.20L-3.44 2.95L-4.42 2.61L-5.27 2.19L-5.95 1.71L-6.46 1.17L-6.77 0.59L-6.88 0.00L-6.77 -0.59L-6.46 -1.17L-5.95 -1.71L-5.27 -2.19L-4.42 -2.61L-3.44 -2.95L-2.35 -3.20L-1.19 -3.36L-0.00 -3.41L1.19 -3.36L2.35 -3.20L3.44 -2.95L4.42 -2.61L5.27 -2.19L5.95 -1.70L6.46 -1.17L6.77 -0.59Z" fill="#00ff60"/><path d="M5.88 0.00L5.79 0.51L5.52 1.00L5.09 1.46L4.50 1.87L3.78 2.23L2.94 2.52L2.01 2.74L1.02 2.87L0.00 2.91L-1.02 2.87L-2.01 2.74L-2.94 2.52L-3.78 2.23L-4.50 1.87L-5.09 1.46L-5.52 1.00L-5.79 0.51L-5.88 0.00L-5.79 -0.51L-5.52 -1.00L-5.09 -1.46L-4.50 -1.87L-3.78 -2.23L-2.94 -2.52L-2.01 -2.74L-1.02 -2.87L-0.00 -2.91L1.02 -2.87L2.01 -2.74L2.94 -2.52L3.78 -2.23L4.50 -1.87L5.09 -1.46L5.52 -1.00L5.79 -0.51Z" fill="#40ff00"/><path d="M5.00 0.00L4.92 0.43L4.70 0.85L4.33 1.24L3.83 1.59L3.21 1.90L2.50 2.15L1.71 2.33L0.87 2.44L0.00 2.48L-0.87 2.44L-1.71 2.33L-2.50 2.15L-3.21 1.90L-3.83 1.59L-4.33 1.24L-4.70 0.85L-4.92 0.43L-5.00 0.00L-4.92 -0.43L-4.70 -0.85L-4.33 -1.24L-3.83 -1.59L-3.21 -1.90L-2.50 -2.15L-1.71 -2.33L-0.87 -2.44L-0.00 -2.48L0.87 -2.44L1.71 -2.33L2.50 -2.15L3.21 -1.90L3.83 -1.59L4.33 -1.24L4.70 -0.85L4.92 -0.43Z" fill="#c0ff00"/><path d="M4.00 0.00L3.94 0.34L3.76 0.68L3.46 0.99L3.06 1.28L2.57 1.52L2.00 1.72L1.37 1.86L0.69 1.95L0.00 1.98L-0.69 1.95L-1.37 1.86L-2.00 1.72L-2.57 1.52L-3.06 1.28L-3.46 0.99L-3.76 0.68L-3.94 0.34L-4.00 0.00L-3.94 -0.34L-3.76 -0.68L-3.46 -0.99L-3.06 -1.28L-2.57 -1.52L-2.00 -1.72L-1.37 -1.86L-0.69 -1.95L-0.00 -1.98L0.69 -1.95L1.37 -1.86L2.00 -1.72L2.57 -1.52L3.06 -1.28L3.46 -0.99L3.76 -0.68L3.94 -0.34Z" fill="#ffff00"/><path d="M2.62 0.00L2.59 0.23L2.47 0.45L2.27 0.65L2.01 0.84L1.69 1.00L1.31 1.13L0.90 1.22L0.46 1.28L0.00 1.30L-0.46 1.28L-0.90 1.22L-1.31 1.13L-1.69 1.00L-2.01 0.84L-2.27 0.65L-2.47 0.45L-2.59 0.23L-2.62 0.00L-2.59 -0.23L-2.47 -0.45L-2.27 -0.65L-2.01 -0.84L-1.69 -1.00L-1.31 -1.13L-0.90 -1.22L-0.46 -1.28L-0.00 -1.30L0.46 -1.28L0.90 -1.22L1.31 -1.13L1.69 -1.00L2.01 -0.84L2.27 -0.65L2.47 -0.45L2.59 -0.23Z" fill="#ffb000"/><path d="M1.38 0.00L1.35 0.12L1.29 0.23L1.19 0.34L1.05 0.44L0.88 0.52L0.69 0.59L0.47 0.64L0.24 0.67L0.00 0.68L-0.24 0.67L-0.47 0.64L-0.69 0.59L-0.88 0.52L-1.05 0.44L-1.19 0.34L-1.29 0.23L-1.35 0.12L-1.38 0.00L-1.35 -0.12L-1.29 -0.23L-1.19 -0.34L-1.05 -0.44L-0.88 -0.52L-0.69 -0.59L-0.47 -0.64L-0.24 -0.67L-0.00 -0.68L0.24 -0.67L0.47 -0.64L0.69 -0.59L0.88 -0.52L1.05 -0.44L1.19 -0.34L1.29 -0.23L1.35 -0.12Z" fill="#ff5000"/></g><g id="lb9"><path d="M6.16 0.00L6.07 1.07L5.79 2.11L5.34 3.09L4.74 3.98L4.01 4.77L3.15 5.46L2.19 6.02L1.14 6.44L0.00 6.72L-1.20 6.83L-2.45 6.74L-3.71 6.43L-4.93 5.88L-6.06 5.08L-7.02 4.05L-7.77 2.83L-8.24 1.45L-8.40 0.00L-8.24 -1.45L-7.77 -2.83L-7.02 -4.05L-6.06 -5.08L-4.93 -5.88L-3.71 -6.43L-2.45 -6.74L-1.20 -6.83L-0.00 -6.72L1.14 -6.44L2.19 -6.02L3.15 -5.46L4.01 -4.77L4.74 -3.98L5.34 -3.09L5.79 -2.11L6.07 -1.07Z" fill="#ff0090"/><path d="M5.67 0.00L5.58 0.98L5.33 1.94L4.92 2.84L4.36 3.66L3.69 4.39L2.90 5.02L2.01 5.54L1.05 5.93L0.00 6.18L-1.11 6.28L-2.26 6.20L-3.41 5.91L-4.54 5.41L-5.57 4.68L-6.46 3.73L-7.15 2.60L-7.58 1.34L-7.73 0.00L-7.58 -1.34L-7.15 -2.60L-6.46 -3.73L-5.57 -4.68L-4.54 -5.41L-3.41 -5.91L-2.26 -6.20L-1.11 -6.28L-0.00 -6.18L1.05 -5.93L2.01 -5.54L2.90 -5.02L3.69 -4.39L4.36 -3.66L4.92 -2.84L5.33 -1.94L5.58 -0.98Z" fill="#ff00d0"/><path d="M5.30 0.00L5.22 0.92L4.98 1.81L4.60 2.65L4.08 3.42L3.44 4.11L2.71 4.69L1.88 5.17L0.98 5.54L0.00 5.78L-1.04 5.87L-2.11 5.79L-3.19 5.53L-4.24 5.05L-5.21 4.37L-6.04 3.49L-6.68 2.43L-7.09 1.25L-7.22 0.00L-7.09 -1.25L-6.68 -2.43L-6.04 -3.49L-5.21 -4.37L-4.24 -5.05L-3.19 -5.53L-2.11 -5.79L-1.04 -5.87L-0.00 -5.78L0.98 -5.54L1.88 -5.17L2.71 -4.69L3.44 -4.11L4.08 -3.42L4.60 -2.65L4.98 -1.81L5.22 -0.92Z" fill="#9000ff"/><path d="M4.93 0.00L4.85 0.86L4.63 1.69L4.27 2.47L3.79 3.18L3.20 3.82L2.52 4.36L1.75 4.81L0.91 5.15L0.00 5.38L-0.96 5.46L-1.96 5.39L-2.97 5.14L-3.94 4.70L-4.85 4.07L-5.62 3.24L-6.21 2.26L-6.59 1.16L-6.72 0.00L-6.59 -1.16L-6.21 -2.26L-5.62 -3.24L-4.85 -4.07L-3.94 -4.70L-2.97 -5.14L-1.96 -5.39L-0.96 -5.46L-0.00 -5.38L0.91 -5.15L1.75 -4.81L2.52 -4.36L3.20 -3.82L3.79 -3.18L4.27 -2.47L4.63 -1.69L4.85 -0.86Z" fill="#0000ff"/><path d="M4.50 0.00L4.43 0.78L4.23 1.54L3.90 2.25L3.46 2.90L2.92 3.48L2.30 3.98L1.60 4.39L0.83 4.70L0.00 4.91L-0.88 4.98L-1.79 4.92L-2.71 4.69L-3.60 4.29L-4.42 3.71L-5.13 2.96L-5.67 2.06L-6.01 1.06L-6.13 0.00L-6.01 -1.06L-5.67 -2.06L-5.13 -2.96L-4.42 -3.71L-3.60 -4.29L-2.71 -4.69L-1.79 -4.92L-0.88 -4.98L-0.00 -4.91L0.83 -4.70L1.60 -4.39L2.30 -3.98L2.92 -3.48L3.46 -2.90L3.90 -2.25L4.23 -1.54L4.43 -0.78Z" fill="#0040ff"/><path d="M4.13 0.00L4.06 0.72L3.88 1.41L3.58 2.07L3.18 2.67L2.68 3.20L2.11 3.66L1.47 4.03L0.76 4.32L0.00 4.50L-0.81 4.57L-1.64 4.51L-2.49 4.31L-3.30 3.94L-4.06 3.41L-4.71 2.72L-5.20 1.89L-5.52 0.97L-5.63 0.00L-5.52 -0.97L-5.20 -1.89L-4.71 -2.72L-4.06 -3.41L-3.30 -3.94L-2.49 -4.31L-1.64 -4.51L-0.81 -4.57L-0.00 -4.50L0.76 -4.32L1.47 -4.03L2.11 -3.66L2.68 -3.20L3.18 -2.67L3.58 -2.07L3.88 -1.41L4.06 -0.72Z" fill="#00c0ff"/><path d="M3.82 0.00L3.76 0.66L3.59 1.31L3.31 1.91L2.94 2.47L2.48 2.96L1.95 3.38L1.36 3.73L0.70 3.99L0.00 4.17L-0.75 4.23L-1.52 4.18L-2.30 3.98L-3.06 3.64L-3.76 3.15L-4.35 2.51L-4.82 1.75L-5.11 0.90L-5.21 0.00L-5.11 -0.90L-4.82 -1.75L-4.35 -2.51L-3.76 -3.15L-3.06 -3.64L-2.30 -3.98L-1.52 -4.18L-0.75 -4.23L-0.00 -4.17L0.70 -3.99L1.36 -3.73L1.95 -3.38L2.48 -2.96L2.94 -2.47L3.31 -1.91L3.59 -1.31L3.76 -0.66Z" fill="#00ffe0"/><path d="M3.39 0.00L3.34 0.59L3.18 1.16L2.94 1.70L2.61 2.19L2.20 2.63L1.73 3.00L1.20 3.31L0.62 3.54L0.00 3.70L-0.66 3.75L-1.35 3.70L-2.04 3.53L-2.71 3.23L-3.33 2.80L-3.86 2.23L-4.27 1.56L-4.53 0.80L-4.62 0.00L-4.53 -0.80L-4.27 -1.56L-3.86 -2.23L-3.33 -2.80L-2.71 -3.23L-2.04 -3.53L-1.35 -3.70L-0.66 -3.75L-0.00 -3.70L0.62 -3.54L1.20 -3.31L1.73 -3.00L2.20 -2.63L2.61 -2.19L2.94 -1.70L3.18 -1.16L3.34 -0.59Z" fill="#00ff60"/><path d="M2.90 0.00L2.85 0.50L2.72 0.99L2.51 1.45L2.23 1.87L1.88 2.24L1.48 2.56L1.03 2.83L0.53 3.03L0.00 3.16L-0.57 3.21L-1.15 3.17L-1.74 3.02L-2.32 2.76L-2.85 2.39L-3.30 1.91L-3.65 1.33L-3.87 0.68L-3.95 0.00L-3.87 -0.68L-3.65 -1.33L-3.30 -1.91L-2.85 -2.39L-2.32 -2.76L-1.74 -3.02L-1.15 -3.17L-0.57 -3.21L-0.00 -3.16L0.53 -3.03L1.03 -2.83L1.48 -2.56L1.88 -2.24L2.23 -1.87L2.51 -1.45L2.72 -0.99L2.85 -0.50Z" fill="#40ff00"/><path d="M2.46 0.00L2.43 0.43L2.32 0.84L2.14 1.23L1.90 1.59L1.60 1.91L1.26 2.18L0.88 2.41L0.45 2.58L0.00 2.69L-0.48 2.73L-0.98 2.69L-1.48 2.57L-1.97 2.35L-2.42 2.03L-2.81 1.62L-3.11 1.13L-3.30 0.58L-3.36 0.00L-3.30 -0.58L-3.11 -1.13L-2.81 -1.62L-2.42 -2.03L-1.97 -2.35L-1.48 -2.57L-0.98 -2.69L-0.48 -2.73L-0.00 -2.69L0.45 -2.58L0.88 -2.41L1.26 -2.18L1.60 -1.91L1.90 -1.59L2.14 -1.23L2.32 -0.84L2.43 -0.43Z" fill="#c0ff00"/><path d="M1.97 0.00L1.94 0.34L1.85 0.67L1.71 0.99L1.52 1.27L1.28 1.53L1.01 1.75L0.70 1.93L0.36 2.06L0.00 2.15L-0.39 2.18L-0.78 2.16L-1.19 2.06L-1.58 1.88L-1.94 1.63L-2.25 1.30L-2.49 0.90L-2.64 0.46L-2.69 0.00L-2.64 -0.46L-2.49 -0.90L-2.25 -1.30L-1.94 -1.63L-1.58 -1.88L-1.19 -2.06L-0.78 -2.16L-0.39 -2.18L-0.00 -2.15L0.36 -2.06L0.70 -1.93L1.01 -1.75L1.28 -1.53L1.52 -1.27L1.71 -0.99L1.85 -0.67L1.94 -0.34Z" fill="#ffff00"/><path d="M1.29 0.00L1.27 0.22L1.22 0.44L1.12 0.65L1.00 0.84L0.84 1.00L0.66 1.15L0.46 1.26L0.24 1.35L0.00 1.41L-0.25 1.43L-0.51 1.41L-0.78 1.35L-1.04 1.23L-1.27 1.07L-1.47 0.85L-1.63 0.59L-1.73 0.31L-1.76 0.00L-1.73 -0.31L-1.63 -0.59L-1.47 -0.85L-1.27 -1.07L-1.04 -1.23L-0.78 -1.35L-0.51 -1.41L-0.25 -1.43L-0.00 -1.41L0.24 -1.35L0.46 -1.26L0.66 -1.15L0.84 -1.00L1.00 -0.84L1.12 -0.65L1.22 -0.44L1.27 -0.22Z" fill="#ffb000"/><path d="M0.68 0.00L0.67 0.12L0.64 0.23L0.59 0.34L0.52 0.44L0.44 0.53L0.35 0.60L0.24 0.66L0.12 0.71L0.00 0.74L-0.13 0.75L-0.27 0.74L-0.41 0.71L-0.54 0.65L-0.67 0.56L-0.77 0.45L-0.85 0.31L-0.91 0.16L-0.92 0.00L-0.91 -0.16L-0.85 -0.31L-0.77 -0.45L-0.67 -0.56L-0.54 -0.65L-0.41 -0.71L-0.27 -0.74L-0.13 -0.75L-0.00 -0.74L0.12 -0.71L0.24 -0.66L0.35 -0.60L0.44 -0.53L0.52 -0.44L0.59 -0.34L0.64 -0.23L0.67 -0.12Z" fill="#ff5000"/></g>
<filter id="soft" x="-30%" y="-30%" width="160%" height="160%"><feGaussianBlur stdDeviation="0.45"/></filter>
</defs>
<rect x="239.77" y="433.00" width="16.62" height="7.00" fill="#9ee8fd" stroke="#000" stroke-width="1.45"/>
<rect x="241.77" y="435.00" width="12.62" height="4.20" fill="#87cefa"/>
<rect x="256.38" y="435.10" width="16.62" height="4.90" fill="#d8d800" stroke="#000" stroke-width="1.45"/>
<rect x="297.92" y="439.30" width="16.62" height="0.70" fill="#d8d800" stroke="#000" stroke-width="1.45"/>
<rect x="322.85" y="106.56" width="16.62" height="333.44" fill="#9ee8fd" stroke="#000" stroke-width="1.45"/>
<rect x="324.85" y="108.56" width="12.62" height="330.64" fill="#87cefa"/>
<rect x="339.46" y="100.26" width="16.62" height="339.74" fill="#d8d800" stroke="#000" stroke-width="1.45"/>
<rect x="341.46" y="102.26" width="12.62" height="336.94" fill="#c0c000"/>
<rect x="364.38" y="436.50" width="16.62" height="3.50" fill="#9ee8fd" stroke="#000" stroke-width="1.45"/>
<rect x="381.00" y="438.60" width="16.62" height="1.40" fill="#d8d800" stroke="#000" stroke-width="1.45"/>
<rect x="405.92" y="106.56" width="16.62" height="333.44" fill="#9ee8fd" stroke="#000" stroke-width="1.45"/>
<rect x="407.92" y="108.56" width="12.62" height="330.64" fill="#87cefa"/>
<rect x="422.54" y="100.26" width="16.62" height="339.74" fill="#d8d800" stroke="#000" stroke-width="1.45"/>
<rect x="424.54" y="102.26" width="12.62" height="336.94" fill="#c0c000"/>
<rect x="447.46" y="438.60" width="16.62" height="1.40" fill="#9ee8fd" stroke="#000" stroke-width="1.45"/>
<rect x="464.08" y="439.30" width="16.62" height="0.70" fill="#d8d800" stroke="#000" stroke-width="1.45"/>
<rect x="489.00" y="419.69" width="16.62" height="20.31" fill="#9ee8fd" stroke="#000" stroke-width="1.45"/>
<rect x="491.00" y="421.69" width="12.62" height="17.51" fill="#87cefa"/>
<rect x="505.62" y="425.29" width="16.62" height="14.71" fill="#d8d800" stroke="#000" stroke-width="1.45"/>
<rect x="507.62" y="427.29" width="12.62" height="11.91" fill="#c0c000"/>
<rect x="572.08" y="435.80" width="16.62" height="4.20" fill="#9ee8fd" stroke="#000" stroke-width="1.45"/>
<path d="M115.15 440.00H646.85" stroke="#111" stroke-width="1.6"/>
<rect x="111.00" y="19.70" width="540.00" height="420.30" fill="none" stroke="#3a3a3a" stroke-width="2"/>
<path d="M131.77 440.00v-4.5M131.77 19.70v4.5M173.31 440.00v-4.5M173.31 19.70v4.5M214.85 440.00v-4.5M214.85 19.70v4.5M256.38 440.00v-4.5M256.38 19.70v4.5M297.92 440.00v-4.5M297.92 19.70v4.5M339.46 440.00v-4.5M339.46 19.70v4.5M381.00 440.00v-4.5M381.00 19.70v4.5M422.54 440.00v-4.5M422.54 19.70v4.5M464.08 440.00v-4.5M464.08 19.70v4.5M505.62 440.00v-4.5M505.62 19.70v4.5M547.15 440.00v-4.5M547.15 19.70v4.5M588.69 440.00v-4.5M588.69 19.70v4.5M630.23 440.00v-4.5M630.23 19.70v4.5M111.00 440.00h4.5M651.00 440.00h-4.5M111.00 369.95h4.5M651.00 369.95h-4.5M111.00 299.90h4.5M651.00 299.90h-4.5M111.00 229.85h4.5M651.00 229.85h-4.5M111.00 159.80h4.5M651.00 159.80h-4.5M111.00 89.75h4.5M651.00 89.75h-4.5M111.00 19.70h4.5M651.00 19.70h-4.5" stroke="#505050" stroke-width="1.1" fill="none"/>
<text x="97.9" y="449.6" font-size="29" text-anchor="end">0</text>
<text x="97.9" y="379.5" font-size="29" text-anchor="end">0.1</text>
<text x="97.9" y="309.4" font-size="29" text-anchor="end">0.2</text>
<text x="97.9" y="239.3" font-size="29" text-anchor="end">0.3</text>
<text x="97.9" y="169.2" font-size="29" text-anchor="end">0.4</text>
<text x="97.9" y="99.0" font-size="29" text-anchor="end">0.5</text>
<text x="129.7" y="473.3" font-size="29" text-anchor="middle">–6</text>
<text x="173.8" y="473.3" font-size="29" text-anchor="middle">–5</text>
<text x="214.2" y="473.3" font-size="29" text-anchor="middle">–4</text>
<text x="256.8" y="473.3" font-size="29" text-anchor="middle">–3</text>
<text x="298.7" y="473.3" font-size="29" text-anchor="middle">–2</text>
<text x="338.5" y="473.3" font-size="29" text-anchor="middle">–1</text>
<text x="382.8" y="473.3" font-size="29" text-anchor="middle">0</text>
<text x="421.8" y="473.3" font-size="29" text-anchor="middle">1</text>
<text x="463.2" y="473.3" font-size="29" text-anchor="middle">2</text>
<text x="504.0" y="473.3" font-size="29" text-anchor="middle">3</text>
<text x="546.1" y="473.3" font-size="29" text-anchor="middle">4</text>
<text x="588.7" y="473.3" font-size="29" text-anchor="middle">5</text>
<text x="628.3" y="473.3" font-size="29" text-anchor="middle">6</text>
<text x="381.0" y="518.7" font-size="29" text-anchor="middle"><tspan font-style="italic">l</tspan> (a.u.)</text>
<text transform="translate(26.3 229.8) rotate(-90)" x="0" y="0" font-size="29" text-anchor="middle">Proportion (a.u.)</text>
<text x="277.7" y="72.8" font-size="29" xml:space="preserve"><tspan font-style="italic">F</tspan> <tspan dx="-1.6" dy="2.4">=</tspan><tspan dx="1.6" dy="-2.4"> 0.63 ± 0.02</tspan></text>
<rect x="521.30" y="27.90" width="120.9" height="54.7" fill="#fff" stroke="#3a3a3a" stroke-width="1.6"/>
<rect x="528.50" y="36.00" width="34.2" height="11.6" fill="#9ee8fd" stroke="#000" stroke-width="1.5"/>
<rect x="530.20" y="37.70" width="30.8" height="8.2" fill="#87cefa"/>
<rect x="528.50" y="60.70" width="34.2" height="11.4" fill="#d8d800" stroke="#000" stroke-width="1.5"/>
<rect x="530.20" y="62.40" width="30.8" height="8.0" fill="#c0c000"/>
<text x="573.3" y="50.4" font-size="20.7">Input</text>
<text x="572.8" y="74.3" font-size="20.7">Output</text>
<text x="-1.5" y="30.5" font-size="42" font-weight="bold">a</text>
<rect x="813.15" y="439.10" width="16.62" height="4.90" fill="#9ee8fd" stroke="#000" stroke-width="1.45"/>
<rect x="896.23" y="441.20" width="16.62" height="2.80" fill="#9ee8fd" stroke="#000" stroke-width="1.45"/>
<rect x="912.85" y="438.40" width="16.62" height="5.60" fill="#d8d800" stroke="#000" stroke-width="1.45"/>
<rect x="954.38" y="442.60" width="16.62" height="1.40" fill="#d8d800" stroke="#000" stroke-width="1.45"/>
<rect x="979.31" y="112.90" width="16.62" height="331.10" fill="#9ee8fd" stroke="#000" stroke-width="1.45"/>
<rect x="981.31" y="114.90" width="12.62" height="328.30" fill="#87cefa"/>
<rect x="995.92" y="108.00" width="16.62" height="336.00" fill="#d8d800" stroke="#000" stroke-width="1.45"/>
<rect x="997.92" y="110.00" width="12.62" height="333.20" fill="#c0c000"/>
<rect x="1020.85" y="440.50" width="16.62" height="3.50" fill="#9ee8fd" stroke="#000" stroke-width="1.45"/>
<rect x="1037.46" y="441.90" width="16.62" height="2.10" fill="#d8d800" stroke="#000" stroke-width="1.45"/>
<rect x="1062.38" y="440.50" width="16.62" height="3.50" fill="#9ee8fd" stroke="#000" stroke-width="1.45"/>
<rect x="1079.00" y="442.60" width="16.62" height="1.40" fill="#d8d800" stroke="#000" stroke-width="1.45"/>
<rect x="1103.92" y="442.60" width="16.62" height="1.40" fill="#9ee8fd" stroke="#000" stroke-width="1.45"/>
<rect x="1120.54" y="441.90" width="16.62" height="2.10" fill="#d8d800" stroke="#000" stroke-width="1.45"/>
<rect x="1145.46" y="97.50" width="16.62" height="346.50" fill="#9ee8fd" stroke="#000" stroke-width="1.45"/>
<rect x="1147.46" y="99.50" width="12.62" height="343.70" fill="#87cefa"/>
<rect x="1162.08" y="97.50" width="16.62" height="346.50" fill="#d8d800" stroke="#000" stroke-width="1.45"/>
<rect x="1164.08" y="99.50" width="12.62" height="343.70" fill="#c0c000"/>
<rect x="1203.62" y="438.40" width="16.62" height="5.60" fill="#d8d800" stroke="#000" stroke-width="1.45"/>
<rect x="1245.15" y="441.90" width="16.62" height="2.10" fill="#d8d800" stroke="#000" stroke-width="1.45"/>
<rect x="1311.62" y="439.10" width="16.62" height="4.90" fill="#9ee8fd" stroke="#000" stroke-width="1.45"/>
<path d="M813.15 444.00H1344.85" stroke="#111" stroke-width="1.6"/>
<rect x="809.00" y="24.00" width="540.00" height="420.00" fill="none" stroke="#3a3a3a" stroke-width="2"/>
<path d="M829.77 444.00v-4.5M829.77 24.00v4.5M871.31 444.00v-4.5M871.31 24.00v4.5M912.85 444.00v-4.5M912.85 24.00v4.5M954.38 444.00v-4.5M954.38 24.00v4.5M995.92 444.00v-4.5M995.92 24.00v4.5M1037.46 444.00v-4.5M1037.46 24.00v4.5M1079.00 444.00v-4.5M1079.00 24.00v4.5M1120.54 444.00v-4.5M1120.54 24.00v4.5M1162.08 444.00v-4.5M1162.08 24.00v4.5M1203.62 444.00v-4.5M1203.62 24.00v4.5M1245.15 444.00v-4.5M1245.15 24.00v4.5M1286.69 444.00v-4.5M1286.69 24.00v4.5M1328.23 444.00v-4.5M1328.23 24.00v4.5M809.00 444.00h4.5M1349.00 444.00h-4.5M809.00 374.00h4.5M1349.00 374.00h-4.5M809.00 304.00h4.5M1349.00 304.00h-4.5M809.00 234.00h4.5M1349.00 234.00h-4.5M809.00 164.00h4.5M1349.00 164.00h-4.5M809.00 94.00h4.5M1349.00 94.00h-4.5M809.00 24.00h4.5M1349.00 24.00h-4.5" stroke="#505050" stroke-width="1.1" fill="none"/>
<text x="798.8" y="453.4" font-size="29" text-anchor="end">0</text>
<text x="798.8" y="383.6" font-size="29" text-anchor="end">0.1</text>
<text x="798.8" y="313.8" font-size="29" text-anchor="end">0.2</text>
<text x="798.8" y="243.9" font-size="29" text-anchor="end">0.3</text>
<text x="798.8" y="174.1" font-size="29" text-anchor="end">0.4</text>
<text x="798.8" y="104.3" font-size="29" text-anchor="end">0.5</text>
<text x="828.7" y="476.8" font-size="29" text-anchor="middle">–6</text>
<text x="872.3" y="476.8" font-size="29" text-anchor="middle">–5</text>
<text x="912.3" y="476.8" font-size="29" text-anchor="middle">–4</text>
<text x="955.8" y="476.8" font-size="29" text-anchor="middle">–3</text>
<text x="997.2" y="476.8" font-size="29" text-anchor="middle">–2</text>
<text x="1036.8" y="476.8" font-size="29" text-anchor="middle">–1</text>
<text x="1079.2" y="476.8" font-size="29" text-anchor="middle">0</text>
<text x="1119.0" y="476.8" font-size="29" text-anchor="middle">1</text>
<text x="1162.9" y="476.8" font-size="29" text-anchor="middle">2</text>
<text x="1203.4" y="476.8" font-size="29" text-anchor="middle">3</text>
<text x="1243.5" y="476.8" font-size="29" text-anchor="middle">4</text>
<text x="1286.7" y="476.8" font-size="29" text-anchor="middle">5</text>
<text x="1328.2" y="476.8" font-size="29" text-anchor="middle">6</text>
<text x="1079.0" y="518.7" font-size="29" text-anchor="middle"><tspan font-style="italic">l</tspan> (a.u.)</text>
<text transform="translate(727.5 234.0) rotate(-90)" x="0" y="0" font-size="29" text-anchor="middle">Proportion (a.u.)</text>
<text x="978.0" y="74.3" font-size="29" xml:space="preserve"><tspan font-style="italic">F</tspan> <tspan dx="-1.6" dy="2.4">=</tspan><tspan dx="1.6" dy="-2.4"> 0.60 ± 0.02</tspan></text>
<rect x="1219.30" y="32.20" width="120.9" height="54.7" fill="#fff" stroke="#3a3a3a" stroke-width="1.6"/>
<rect x="1226.50" y="40.30" width="34.2" height="11.6" fill="#9ee8fd" stroke="#000" stroke-width="1.5"/>
<rect x="1228.20" y="42.00" width="30.8" height="8.2" fill="#87cefa"/>
<rect x="1226.50" y="65.00" width="34.2" height="11.4" fill="#d8d800" stroke="#000" stroke-width="1.5"/>
<rect x="1228.20" y="66.70" width="30.8" height="8.0" fill="#c0c000"/>
<text x="1271.3" y="52.8" font-size="20.7">Input</text>
<text x="1270.8" y="76.7" font-size="20.7">Output</text>
<text x="702.5" y="30.5" font-size="42" font-weight="bold">b</text>
<rect x="153.73" y="1153.30" width="16.63" height="1.40" fill="#9ee8fd" stroke="#000" stroke-width="1.45"/>
<rect x="170.35" y="1142.79" width="16.63" height="11.91" fill="#d8d800" stroke="#000" stroke-width="1.45"/>
<rect x="172.35" y="1144.79" width="12.63" height="9.11" fill="#c0c000"/>
<rect x="211.92" y="1152.60" width="16.63" height="2.10" fill="#d8d800" stroke="#000" stroke-width="1.45"/>
<rect x="236.86" y="809.62" width="16.63" height="345.08" fill="#9ee8fd" stroke="#000" stroke-width="1.45"/>
<rect x="238.86" y="811.62" width="12.63" height="342.28" fill="#87cefa"/>
<rect x="253.49" y="821.18" width="16.63" height="333.52" fill="#d8d800" stroke="#000" stroke-width="1.45"/>
<rect x="255.49" y="823.18" width="12.63" height="330.72" fill="#c0c000"/>
<rect x="278.43" y="1150.50" width="16.63" height="4.20" fill="#9ee8fd" stroke="#000" stroke-width="1.45"/>
<rect x="295.06" y="1150.50" width="16.63" height="4.20" fill="#d8d800" stroke="#000" stroke-width="1.45"/>
<rect x="336.63" y="1152.60" width="16.63" height="2.10" fill="#d8d800" stroke="#000" stroke-width="1.45"/>
<rect x="403.14" y="1150.50" width="16.63" height="4.20" fill="#9ee8fd" stroke="#000" stroke-width="1.45"/>
<rect x="419.77" y="1152.60" width="16.63" height="2.10" fill="#d8d800" stroke="#000" stroke-width="1.45"/>
<rect x="444.71" y="1150.50" width="16.63" height="4.20" fill="#9ee8fd" stroke="#000" stroke-width="1.45"/>
<rect x="461.34" y="1152.60" width="16.63" height="2.10" fill="#d8d800" stroke="#000" stroke-width="1.45"/>
<rect x="486.28" y="814.18" width="16.63" height="340.52" fill="#9ee8fd" stroke="#000" stroke-width="1.45"/>
<rect x="488.28" y="816.18" width="12.63" height="337.72" fill="#87cefa"/>
<rect x="502.91" y="821.18" width="16.63" height="333.52" fill="#d8d800" stroke="#000" stroke-width="1.45"/>
<rect x="504.91" y="823.18" width="12.63" height="330.72" fill="#c0c000"/>
<rect x="544.48" y="1152.60" width="16.63" height="2.10" fill="#d8d800" stroke="#000" stroke-width="1.45"/>
<rect x="586.05" y="1150.50" width="16.63" height="4.20" fill="#d8d800" stroke="#000" stroke-width="1.45"/>
<path d="M112.16 1154.70H644.24" stroke="#111" stroke-width="1.6"/>
<rect x="108.00" y="734.30" width="540.40" height="420.40" fill="none" stroke="#3a3a3a" stroke-width="2"/>
<path d="M128.78 1154.70v-4.5M128.78 734.30v4.5M170.35 1154.70v-4.5M170.35 734.30v4.5M211.92 1154.70v-4.5M211.92 734.30v4.5M253.49 1154.70v-4.5M253.49 734.30v4.5M295.06 1154.70v-4.5M295.06 734.30v4.5M336.63 1154.70v-4.5M336.63 734.30v4.5M378.20 1154.70v-4.5M378.20 734.30v4.5M419.77 1154.70v-4.5M419.77 734.30v4.5M461.34 1154.70v-4.5M461.34 734.30v4.5M502.91 1154.70v-4.5M502.91 734.30v4.5M544.48 1154.70v-4.5M544.48 734.30v4.5M586.05 1154.70v-4.5M586.05 734.30v4.5M627.62 1154.70v-4.5M627.62 734.30v4.5M108.00 1154.70h4.5M648.40 1154.70h-4.5M108.00 1084.63h4.5M648.40 1084.63h-4.5M108.00 1014.57h4.5M648.40 1014.57h-4.5M108.00 944.50h4.5M648.40 944.50h-4.5M108.00 874.43h4.5M648.40 874.43h-4.5M108.00 804.37h4.5M648.40 804.37h-4.5M108.00 734.30h4.5M648.40 734.30h-4.5" stroke="#505050" stroke-width="1.1" fill="none"/>
<text x="96.3" y="1164.1" font-size="29" text-anchor="end">0</text>
<text x="96.3" y="1094.3" font-size="29" text-anchor="end">0.1</text>
<text x="96.3" y="1024.6" font-size="29" text-anchor="end">0.2</text>
<text x="96.3" y="954.8" font-size="29" text-anchor="end">0.3</text>
<text x="96.3" y="885.0" font-size="29" text-anchor="end">0.4</text>
<text x="96.3" y="815.3" font-size="29" text-anchor="end">0.5</text>
<text x="128.1" y="1189.6" font-size="29" text-anchor="middle">–6</text>
<text x="171.1" y="1189.6" font-size="29" text-anchor="middle">–5</text>
<text x="211.6" y="1189.6" font-size="29" text-anchor="middle">–4</text>
<text x="254.2" y="1189.6" font-size="29" text-anchor="middle">–3</text>
<text x="296.3" y="1189.6" font-size="29" text-anchor="middle">–2</text>
<text x="336.6" y="1189.6" font-size="29" text-anchor="middle">–1</text>
<text x="380.2" y="1189.6" font-size="29" text-anchor="middle">0</text>
<text x="415.9" y="1189.6" font-size="29" text-anchor="middle">1</text>
<text x="459.9" y="1189.6" font-size="29" text-anchor="middle">2</text>
<text x="502.5" y="1189.6" font-size="29" text-anchor="middle">3</text>
<text x="543.9" y="1189.6" font-size="29" text-anchor="middle">4</text>
<text x="586.6" y="1189.6" font-size="29" text-anchor="middle">5</text>
<text x="626.8" y="1189.6" font-size="29" text-anchor="middle">6</text>
<text x="378.2" y="1238.9" font-size="29" text-anchor="middle"><tspan font-style="italic">l</tspan> (a.u.)</text>
<text transform="translate(23.9 944.5) rotate(-90)" x="0" y="0" font-size="29" text-anchor="middle">Proportion (a.u.)</text>
<text x="284.9" y="795.4" font-size="29" xml:space="preserve"><tspan font-style="italic">F</tspan> <tspan dx="-1.6" dy="2.4">=</tspan><tspan dx="1.6" dy="-2.4"> 0.56 ± 0.01</tspan></text>
<rect x="518.70" y="742.50" width="120.9" height="54.7" fill="#fff" stroke="#3a3a3a" stroke-width="1.6"/>
<rect x="525.90" y="750.60" width="34.2" height="11.6" fill="#9ee8fd" stroke="#000" stroke-width="1.5"/>
<rect x="527.60" y="752.30" width="30.8" height="8.2" fill="#87cefa"/>
<rect x="525.90" y="775.30" width="34.2" height="11.4" fill="#d8d800" stroke="#000" stroke-width="1.5"/>
<rect x="527.60" y="777.00" width="30.8" height="8.0" fill="#c0c000"/>
<text x="570.7" y="764.7" font-size="20.7">Input</text>
<text x="570.2" y="788.6" font-size="20.7">Output</text>
<text x="-1.5" y="747.5" font-size="42" font-weight="bold">c</text>
<rect x="828.80" y="1149.09" width="16.64" height="5.61" fill="#d8d800" stroke="#000" stroke-width="1.45"/>
<rect x="895.34" y="819.08" width="16.64" height="335.62" fill="#9ee8fd" stroke="#000" stroke-width="1.45"/>
<rect x="897.34" y="821.08" width="12.64" height="332.82" fill="#87cefa"/>
<rect x="911.98" y="830.99" width="16.64" height="323.71" fill="#d8d800" stroke="#000" stroke-width="1.45"/>
<rect x="913.98" y="832.99" width="12.64" height="320.91" fill="#c0c000"/>
<rect x="936.94" y="1146.99" width="16.64" height="7.71" fill="#9ee8fd" stroke="#000" stroke-width="1.45"/>
<rect x="938.94" y="1148.99" width="12.64" height="4.91" fill="#87cefa"/>
<rect x="953.57" y="1143.49" width="16.64" height="11.21" fill="#d8d800" stroke="#000" stroke-width="1.45"/>
<rect x="955.57" y="1145.49" width="12.64" height="8.41" fill="#c0c000"/>
<rect x="1144.90" y="1146.29" width="16.64" height="8.41" fill="#9ee8fd" stroke="#000" stroke-width="1.45"/>
<rect x="1146.90" y="1148.29" width="12.64" height="5.61" fill="#87cefa"/>
<rect x="1186.49" y="1146.99" width="16.64" height="7.71" fill="#9ee8fd" stroke="#000" stroke-width="1.45"/>
<rect x="1188.49" y="1148.99" width="12.64" height="4.91" fill="#87cefa"/>
<rect x="1203.13" y="1131.23" width="16.64" height="23.47" fill="#d8d800" stroke="#000" stroke-width="1.45"/>
<rect x="1205.13" y="1133.23" width="12.64" height="20.67" fill="#c0c000"/>
<rect x="1228.08" y="811.37" width="16.64" height="343.33" fill="#9ee8fd" stroke="#000" stroke-width="1.45"/>
<rect x="1230.08" y="813.37" width="12.64" height="340.53" fill="#87cefa"/>
<rect x="1244.72" y="824.69" width="16.64" height="330.01" fill="#d8d800" stroke="#000" stroke-width="1.45"/>
<rect x="1246.72" y="826.69" width="12.64" height="327.21" fill="#c0c000"/>
<rect x="1327.90" y="1149.09" width="16.64" height="5.61" fill="#d8d800" stroke="#000" stroke-width="1.45"/>
<path d="M812.16 1154.70H1344.54" stroke="#111" stroke-width="1.6"/>
<rect x="808.00" y="734.30" width="540.70" height="420.40" fill="none" stroke="#3a3a3a" stroke-width="2"/>
<path d="M828.80 1154.70v-4.5M828.80 734.30v4.5M870.39 1154.70v-4.5M870.39 734.30v4.5M911.98 1154.70v-4.5M911.98 734.30v4.5M953.57 1154.70v-4.5M953.57 734.30v4.5M995.17 1154.70v-4.5M995.17 734.30v4.5M1036.76 1154.70v-4.5M1036.76 734.30v4.5M1078.35 1154.70v-4.5M1078.35 734.30v4.5M1119.94 1154.70v-4.5M1119.94 734.30v4.5M1161.53 1154.70v-4.5M1161.53 734.30v4.5M1203.13 1154.70v-4.5M1203.13 734.30v4.5M1244.72 1154.70v-4.5M1244.72 734.30v4.5M1286.31 1154.70v-4.5M1286.31 734.30v4.5M1327.90 1154.70v-4.5M1327.90 734.30v4.5M808.00 1154.70h4.5M1348.70 1154.70h-4.5M808.00 1084.63h4.5M1348.70 1084.63h-4.5M808.00 1014.57h4.5M1348.70 1014.57h-4.5M808.00 944.50h4.5M1348.70 944.50h-4.5M808.00 874.43h4.5M1348.70 874.43h-4.5M808.00 804.37h4.5M1348.70 804.37h-4.5M808.00 734.30h4.5M1348.70 734.30h-4.5" stroke="#505050" stroke-width="1.1" fill="none"/>
<text x="796.3" y="1164.9" font-size="29" text-anchor="end">0</text>
<text x="796.3" y="1094.9" font-size="29" text-anchor="end">0.1</text>
<text x="796.3" y="1025.0" font-size="29" text-anchor="end">0.2</text>
<text x="796.3" y="955.1" font-size="29" text-anchor="end">0.3</text>
<text x="796.3" y="885.2" font-size="29" text-anchor="end">0.4</text>
<text x="796.3" y="815.2" font-size="29" text-anchor="end">0.5</text>
<text x="828.3" y="1189.6" font-size="29" text-anchor="middle">–6</text>
<text x="871.6" y="1189.6" font-size="29" text-anchor="middle">–5</text>
<text x="913.0" y="1189.6" font-size="29" text-anchor="middle">–4</text>
<text x="955.3" y="1189.6" font-size="29" text-anchor="middle">–3</text>
<text x="996.9" y="1189.6" font-size="29" text-anchor="middle">–2</text>
<text x="1035.9" y="1189.6" font-size="29" text-anchor="middle">–1</text>
<text x="1079.6" y="1189.6" font-size="29" text-anchor="middle">0</text>
<text x="1118.9" y="1189.6" font-size="29" text-anchor="middle">1</text>
<text x="1162.9" y="1189.6" font-size="29" text-anchor="middle">2</text>
<text x="1203.7" y="1189.6" font-size="29" text-anchor="middle">3</text>
<text x="1244.8" y="1189.6" font-size="29" text-anchor="middle">4</text>
<text x="1286.6" y="1189.6" font-size="29" text-anchor="middle">5</text>
<text x="1329.1" y="1189.6" font-size="29" text-anchor="middle">6</text>
<text x="1078.3" y="1238.9" font-size="29" text-anchor="middle"><tspan font-style="italic">l</tspan> (a.u.)</text>
<text transform="translate(727.3 944.5) rotate(-90)" x="0" y="0" font-size="29" text-anchor="middle">Proportion (a.u.)</text>
<text x="979.2" y="791.3" font-size="29" xml:space="preserve"><tspan font-style="italic">F</tspan> <tspan dx="-1.6" dy="2.4">=</tspan><tspan dx="1.6" dy="-2.4"> 0.54 ± 0.02</tspan></text>
<rect x="1219.00" y="742.50" width="120.9" height="54.7" fill="#fff" stroke="#3a3a3a" stroke-width="1.6"/>
<rect x="1226.20" y="750.60" width="34.2" height="11.6" fill="#9ee8fd" stroke="#000" stroke-width="1.5"/>
<rect x="1227.90" y="752.30" width="30.8" height="8.2" fill="#87cefa"/>
<rect x="1226.20" y="775.30" width="34.2" height="11.4" fill="#d8d800" stroke="#000" stroke-width="1.5"/>
<rect x="1227.90" y="777.00" width="30.8" height="8.0" fill="#c0c000"/>
<text x="1271.0" y="763.1" font-size="20.7">Input</text>
<text x="1270.5" y="787.0" font-size="20.7">Output</text>
<text x="701.5" y="747.5" font-size="42" font-weight="bold">d</text>
<rect x="139.3" y="541.7" width="64.8" height="123.2" fill="#808080"/>
<rect x="204.1" y="541.7" width="66.0" height="123.2" fill="#000"/>
<rect x="202.8" y="541.7" width="1.3" height="123.2" fill="#8e8e8e"/>
<text x="304.7" y="616.6" font-size="29">Input</text>
<text x="458.8" y="618.3" font-size="29">Output</text>
<clipPath id="ic1"><rect x="387.10" y="541.60" width="50.60" height="121.90"/></clipPath>
<g clip-path="url(#ic1)">
<rect x="387.10" y="541.60" width="50.60" height="121.90" fill="#2a0040"/>
<mask id="m1"><rect x="387.10" y="541.60" width="50.60" height="121.90" fill="#fff"/>
<ellipse cx="412.40" cy="602.50" rx="22.00" ry="200.00" fill="url(#hole)"/>
</mask>
<rect x="387.10" y="541.60" width="50.60" height="121.90" filter="url(#spk)" mask="url(#m1)"/>
<circle cx="411.00" cy="602.00" r="24.00" fill="url(#halo)"/>
<use href="#lb0" transform="translate(412.10 592.20) rotate(-90.0)" filter="url(#soft)"/>
<use href="#lb1" transform="translate(409.80 612.00) rotate(90.0)" filter="url(#soft)"/>
</g>
<clipPath id="ic2"><rect x="564.10" y="541.50" width="50.10" height="123.20"/></clipPath>
<g clip-path="url(#ic2)">
<rect x="564.10" y="541.50" width="50.10" height="123.20" fill="#2a0040"/>
<mask id="m2"><rect x="564.10" y="541.50" width="50.10" height="123.20" fill="#fff"/>
<ellipse cx="589.20" cy="603.00" rx="24.00" ry="45.00" fill="url(#hole)"/>
</mask>
<rect x="564.10" y="541.50" width="50.10" height="123.20" filter="url(#spk)" mask="url(#m2)"/>
<use href="#lb2" transform="translate(590.70 595.10) rotate(-90.0)" filter="url(#soft)"/>
<use href="#lb3" transform="translate(589.60 611.40) rotate(90.0)" filter="url(#soft)"/>
</g>
<clipPath id="cp797"><rect x="797.20" y="542.00" width="130.60" height="123.90"/></clipPath>
<rect x="797.20" y="542.00" width="130.60" height="123.90" fill="#808080"/>
<g clip-path="url(#cp797)">
<path d="M862.50 603.95L1001.02 472.53L1032.15 511.03L1051.72 555.85L1058.40 603.95L1051.72 652.05L1032.15 696.88L1001.02 735.37ZM862.50 603.95L723.98 735.37L692.85 696.88L673.28 652.05L666.60 603.95L673.28 555.85L692.85 511.03L723.98 472.53Z" fill="#000"/>
<path d="M862.50 603.95L1001.02 472.53M862.50 603.95L1001.02 735.37M862.50 603.95L723.98 735.37M862.50 603.95L723.98 472.53" stroke="#a4a4a4" stroke-width="1.1" fill="none"/>
</g>
<text x="936.8" y="616.3" font-size="29">Input</text>
<text x="1148.0" y="618.3" font-size="29">Output</text>
<clipPath id="ic3"><rect x="1009.60" y="542.00" width="130.50" height="123.70"/></clipPath>
<g clip-path="url(#ic3)">
<rect x="1009.60" y="542.00" width="130.50" height="123.70" fill="#2a0040"/>
<mask id="m3"><rect x="1009.60" y="542.00" width="130.50" height="123.70" fill="#fff"/>
<ellipse cx="1074.80" cy="603.80" rx="80.00" ry="80.00" fill="url(#hole)"/>
</mask>
<rect x="1009.60" y="542.00" width="130.50" height="123.70" filter="url(#spk)" mask="url(#m3)"/>
<circle cx="1073.40" cy="607.00" r="50.00" fill="url(#ann)"/>
<ellipse cx="1078.02" cy="577.36" rx="12" ry="8" fill="url(#ray)" transform="rotate(-81.1 1078.02 577.36)"/>
<ellipse cx="1043.48" cy="604.78" rx="12" ry="8" fill="url(#ray)" transform="rotate(-175.8 1043.48 604.78)"/>
<ellipse cx="1103.39" cy="607.75" rx="12" ry="8" fill="url(#ray)" transform="rotate(1.4 1103.39 607.75)"/>
<ellipse cx="1069.61" cy="636.76" rx="12" ry="8" fill="url(#ray)" transform="rotate(97.3 1069.61 636.76)"/>
<use href="#lb4" transform="translate(1075.80 591.60) rotate(-81.1)" filter="url(#soft)"/>
<use href="#lb4" transform="translate(1057.20 605.80) rotate(-175.8)" filter="url(#soft)"/>
<use href="#lb4" transform="translate(1089.40 607.40) rotate(1.4)" filter="url(#soft)"/>
<use href="#lb4" transform="translate(1071.40 622.70) rotate(97.3)" filter="url(#soft)"/>
</g>
<clipPath id="ic4"><rect x="1243.40" y="542.00" width="128.50" height="124.00"/></clipPath>
<g clip-path="url(#ic4)">
<rect x="1243.40" y="542.00" width="128.50" height="124.00" fill="#2a0040"/>
<mask id="m4"><rect x="1243.40" y="542.00" width="128.50" height="124.00" fill="#fff"/>
<ellipse cx="1306.60" cy="605.00" rx="50.00" ry="50.00" fill="url(#hole)"/>
</mask>
<rect x="1243.40" y="542.00" width="128.50" height="124.00" filter="url(#spk)" mask="url(#m4)"/>
<use href="#lb5" transform="translate(1308.00 593.50) rotate(-82.8)" filter="url(#soft)"/>
<use href="#lb5" transform="translate(1294.00 604.10) rotate(-174.5)" filter="url(#soft)"/>
<use href="#lb5" transform="translate(1319.20 606.00) rotate(3.2)" filter="url(#soft)"/>
<use href="#lb5" transform="translate(1305.00 617.50) rotate(97.0)" filter="url(#soft)"/>
</g>
<clipPath id="cp90"><rect x="90.40" y="1260.00" width="131.30" height="122.90"/></clipPath>
<rect x="90.40" y="1260.00" width="131.30" height="122.90" fill="#808080"/>
<g clip-path="url(#cp90)">
<path d="M156.05 1321.45L-14.51 1229.27L5.18 1202.95L29.45 1180.23L57.58 1161.80L88.69 1148.22L121.85 1139.90L156.05 1137.10ZM156.05 1321.45L326.61 1229.27L341.12 1258.40L350.01 1289.44L353.00 1321.45L350.01 1353.46L341.12 1384.50L326.61 1413.62ZM156.05 1321.45L156.05 1505.80L121.85 1503.00L88.69 1494.68L57.58 1481.10L29.45 1462.67L5.18 1439.95L-14.51 1413.63Z" fill="#000"/>
<path d="M156.05 1321.45L-14.51 1229.27M156.05 1321.45L156.05 1137.10M156.05 1321.45L326.61 1229.27M156.05 1321.45L326.61 1413.62M156.05 1321.45L156.05 1505.80M156.05 1321.45L-14.51 1413.63" stroke="#a4a4a4" stroke-width="1.1" fill="none"/>
</g>
<text x="230.2" y="1331.9" font-size="29">Input</text>
<text x="444.5" y="1333.1" font-size="29">Output</text>
<clipPath id="ic5"><rect x="307.00" y="1258.30" width="130.80" height="127.20"/></clipPath>
<g clip-path="url(#ic5)">
<rect x="307.00" y="1258.30" width="130.80" height="127.20" fill="#2a0040"/>
<mask id="m5"><rect x="307.00" y="1258.30" width="130.80" height="127.20" fill="#fff"/>
<ellipse cx="372.40" cy="1322.00" rx="95.00" ry="95.00" fill="url(#hole)"/>
</mask>
<rect x="307.00" y="1258.30" width="130.80" height="127.20" filter="url(#spk)" mask="url(#m5)"/>
<circle cx="371.50" cy="1328.00" r="62.00" fill="url(#ann)"/>
<ellipse cx="377.40" cy="1294.52" rx="16" ry="10" fill="url(#ray)" transform="rotate(-80.0 377.40 1294.52)"/>
<ellipse cx="343.35" cy="1308.93" rx="16" ry="10" fill="url(#ray)" transform="rotate(-145.9 343.35 1308.93)"/>
<ellipse cx="402.15" cy="1313.29" rx="16" ry="10" fill="url(#ray)" transform="rotate(-25.6 402.15 1313.29)"/>
<ellipse cx="340.95" cy="1342.93" rx="16" ry="10" fill="url(#ray)" transform="rotate(154.0 340.95 1342.93)"/>
<ellipse cx="400.11" cy="1346.38" rx="16" ry="10" fill="url(#ray)" transform="rotate(32.7 400.11 1346.38)"/>
<ellipse cx="367.10" cy="1361.71" rx="16" ry="10" fill="url(#ray)" transform="rotate(97.4 367.10 1361.71)"/>
<use href="#lb6" transform="translate(374.60 1310.40) rotate(-80.0)" filter="url(#soft)"/>
<use href="#lb6" transform="translate(356.00 1317.50) rotate(-145.9)" filter="url(#soft)"/>
<use href="#lb6" transform="translate(388.80 1319.70) rotate(-25.6)" filter="url(#soft)"/>
<use href="#lb6" transform="translate(353.90 1336.60) rotate(154.0)" filter="url(#soft)"/>
<use href="#lb6" transform="translate(386.60 1337.70) rotate(32.7)" filter="url(#soft)"/>
<use href="#lb6" transform="translate(369.10 1346.40) rotate(97.4)" filter="url(#soft)"/>
</g>
<clipPath id="ic6"><rect x="544.60" y="1257.70" width="126.60" height="124.80"/></clipPath>
<g clip-path="url(#ic6)">
<rect x="544.60" y="1257.70" width="126.60" height="124.80" fill="#2a0040"/>
<mask id="m6"><rect x="544.60" y="1257.70" width="126.60" height="124.80" fill="#fff"/>
<ellipse cx="606.00" cy="1321.00" rx="60.00" ry="60.00" fill="url(#hole)"/>
</mask>
<rect x="544.60" y="1257.70" width="126.60" height="124.80" filter="url(#spk)" mask="url(#m6)"/>
<use href="#lb7" transform="translate(606.70 1306.80) rotate(-83.2)" filter="url(#soft)"/>
<use href="#lb7" transform="translate(592.70 1311.90) rotate(-143.5)" filter="url(#soft)"/>
<use href="#lb7" transform="translate(619.00 1314.00) rotate(-26.6)" filter="url(#soft)"/>
<use href="#lb7" transform="translate(590.90 1328.00) rotate(153.6)" filter="url(#soft)"/>
<use href="#lb7" transform="translate(617.00 1329.50) rotate(35.3)" filter="url(#soft)"/>
<use href="#lb7" transform="translate(603.60 1335.80) rotate(95.4)" filter="url(#soft)"/>
</g>
<clipPath id="cp786"><rect x="786.40" y="1257.50" width="131.50" height="124.20"/></clipPath>
<rect x="786.40" y="1257.50" width="131.50" height="124.20" fill="#808080"/>
<g clip-path="url(#cp786)">
<path d="M852.15 1319.60L776.67 1147.48L801.10 1139.65L826.40 1134.89L852.15 1133.30L877.90 1134.89L903.20 1139.65L927.63 1147.48ZM852.15 1319.60L1034.39 1248.31L1042.68 1271.38L1047.71 1295.28L1049.40 1319.60L1047.71 1343.92L1042.68 1367.82L1034.39 1390.89ZM852.15 1319.60L927.63 1491.72L903.20 1499.55L877.90 1504.31L852.15 1505.90L826.40 1504.31L801.10 1499.55L776.67 1491.72ZM852.15 1319.60L669.91 1390.89L661.62 1367.82L656.59 1343.92L654.90 1319.60L656.59 1295.28L661.62 1271.38L669.91 1248.31Z" fill="#000"/>
<path d="M852.15 1319.60L776.67 1147.48M852.15 1319.60L927.63 1147.48M852.15 1319.60L1034.39 1248.31M852.15 1319.60L1034.39 1390.89M852.15 1319.60L927.63 1491.72M852.15 1319.60L776.67 1491.72M852.15 1319.60L669.91 1390.89M852.15 1319.60L669.91 1248.31" stroke="#a4a4a4" stroke-width="1.1" fill="none"/>
</g>
<text x="927.7" y="1331.9" font-size="29">Input</text>
<text x="1146.2" y="1331.7" font-size="29">Output</text>
<clipPath id="ic7"><rect x="1002.40" y="1257.50" width="132.10" height="128.00"/></clipPath>
<g clip-path="url(#ic7)">
<rect x="1002.40" y="1257.50" width="132.10" height="128.00" fill="#2a0040"/>
<mask id="m7"><rect x="1002.40" y="1257.50" width="132.10" height="128.00" fill="#fff"/>
<ellipse cx="1067.50" cy="1322.00" rx="95.00" ry="95.00" fill="url(#hole)"/>
</mask>
<rect x="1002.40" y="1257.50" width="132.10" height="128.00" filter="url(#spk)" mask="url(#m7)"/>
<circle cx="1067.20" cy="1325.20" r="66.00" fill="url(#ann)"/>
<ellipse cx="1071.02" cy="1293.43" rx="6.5" ry="3.6" fill="url(#tail)" transform="rotate(-83.1 1071.02 1293.43)"/>
<ellipse cx="1091.88" cy="1304.83" rx="6.5" ry="3.6" fill="url(#tail)" transform="rotate(-39.5 1091.88 1304.83)"/>
<ellipse cx="1099.10" cy="1327.69" rx="6.5" ry="3.6" fill="url(#tail)" transform="rotate(4.5 1099.10 1327.69)"/>
<ellipse cx="1088.30" cy="1349.26" rx="6.5" ry="3.6" fill="url(#tail)" transform="rotate(48.8 1088.30 1349.26)"/>
<ellipse cx="1061.84" cy="1356.75" rx="6.5" ry="3.6" fill="url(#tail)" transform="rotate(99.6 1061.84 1356.75)"/>
<ellipse cx="1041.90" cy="1344.80" rx="6.5" ry="3.6" fill="url(#tail)" transform="rotate(142.2 1041.90 1344.80)"/>
<ellipse cx="1035.34" cy="1322.18" rx="6.5" ry="3.6" fill="url(#tail)" transform="rotate(-174.6 1035.34 1322.18)"/>
<ellipse cx="1045.27" cy="1301.90" rx="6.5" ry="3.6" fill="url(#tail)" transform="rotate(-133.3 1045.27 1301.90)"/>
<use href="#lb8" transform="translate(1069.70 1304.40) rotate(-83.1)" filter="url(#soft)"/>
<use href="#lb8" transform="translate(1083.80 1311.50) rotate(-39.5)" filter="url(#soft)"/>
<use href="#lb8" transform="translate(1087.70 1326.80) rotate(4.5)" filter="url(#soft)"/>
<use href="#lb8" transform="translate(1080.00 1339.80) rotate(48.8)" filter="url(#soft)"/>
<use href="#lb8" transform="translate(1063.70 1345.80) rotate(99.6)" filter="url(#soft)"/>
<use href="#lb8" transform="translate(1049.00 1339.30) rotate(142.2)" filter="url(#soft)"/>
<use href="#lb8" transform="translate(1044.00 1323.00) rotate(-174.6)" filter="url(#soft)"/>
<use href="#lb8" transform="translate(1052.80 1309.90) rotate(-133.3)" filter="url(#soft)"/>
</g>
<clipPath id="ic8"><rect x="1243.90" y="1257.60" width="131.10" height="125.90"/></clipPath>
<g clip-path="url(#ic8)">
<rect x="1243.90" y="1257.60" width="131.10" height="125.90" fill="#2a0040"/>
<mask id="m8"><rect x="1243.90" y="1257.60" width="131.10" height="125.90" fill="#fff"/>
<ellipse cx="1308.40" cy="1321.00" rx="60.00" ry="60.00" fill="url(#hole)"/>
</mask>
<rect x="1243.90" y="1257.60" width="131.10" height="125.90" filter="url(#spk)" mask="url(#m8)"/>
<use href="#lb9" transform="translate(1310.70 1305.40) rotate(-82.2)" filter="url(#soft)"/>
<use href="#lb9" transform="translate(1322.40 1310.70) rotate(-39.6)" filter="url(#soft)"/>
<use href="#lb9" transform="translate(1325.90 1323.80) rotate(4.9)" filter="url(#soft)"/>
<use href="#lb9" transform="translate(1319.20 1335.20) rotate(50.1)" filter="url(#soft)"/>
<use href="#lb9" transform="translate(1306.30 1339.60) rotate(96.9)" filter="url(#soft)"/>
<use href="#lb9" transform="translate(1294.40 1334.30) rotate(139.4)" filter="url(#soft)"/>
<use href="#lb9" transform="translate(1290.90 1320.80) rotate(-175.1)" filter="url(#soft)"/>
<use href="#lb9" transform="translate(1297.90 1308.00) rotate(-126.3)" filter="url(#soft)"/>
</g>
</svg></body></html>
